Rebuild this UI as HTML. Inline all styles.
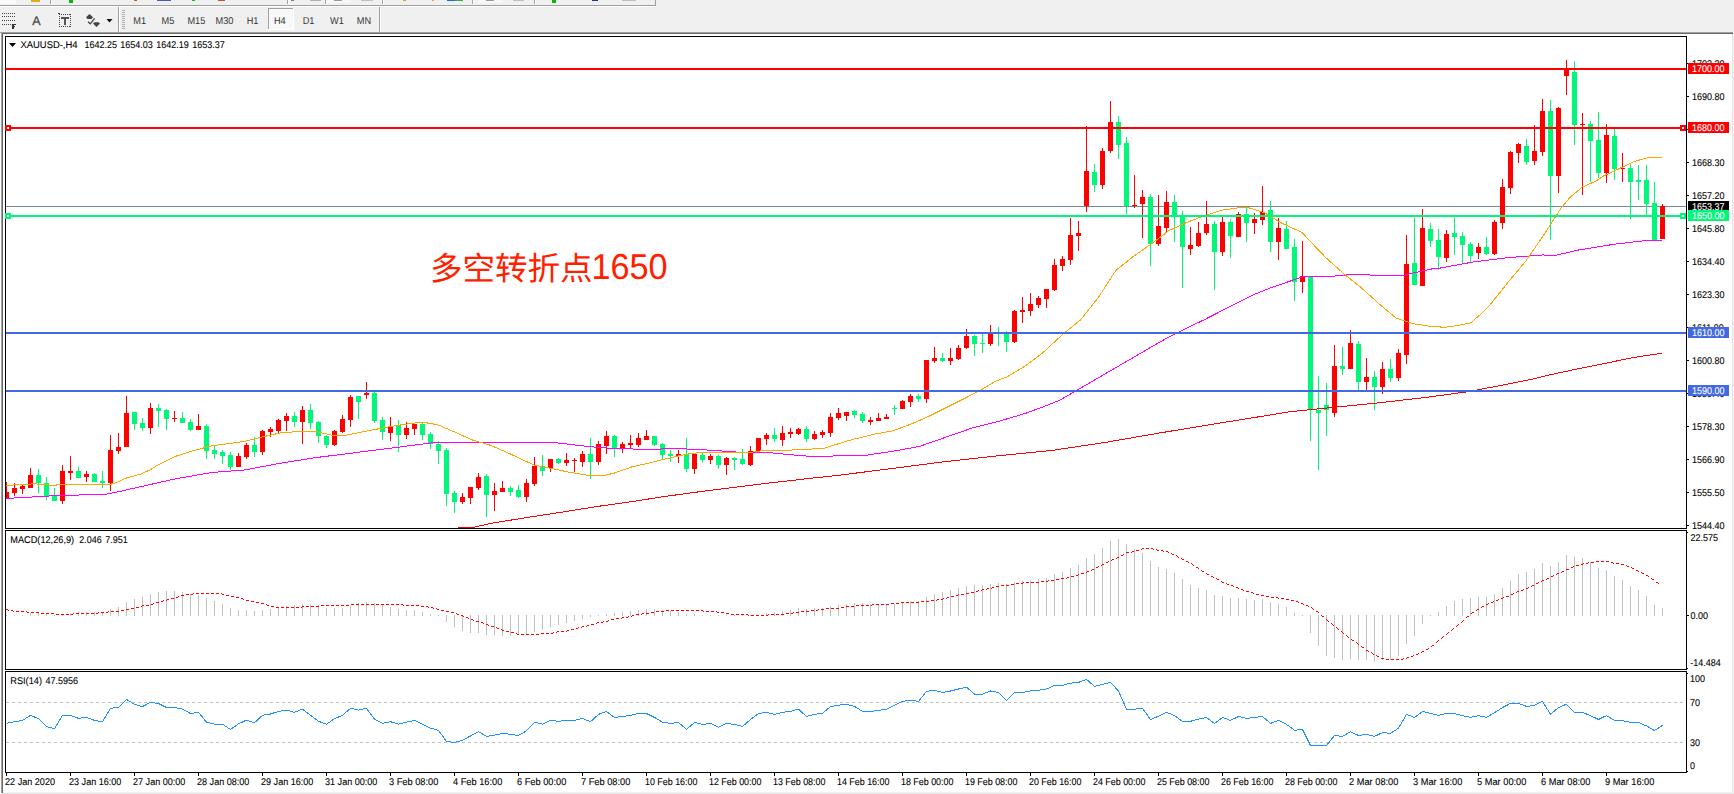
<!DOCTYPE html>
<html><head><meta charset="utf-8"><title>XAUUSD H4</title>
<style>
html,body{margin:0;padding:0;background:#fff;}
body{width:1734px;height:794px;overflow:hidden;position:relative;font-family:"Liberation Sans","Noto Sans CJK SC",sans-serif;}
svg{position:absolute;left:0;top:0;display:block}
text{font-family:"Liberation Sans","Noto Sans CJK SC",sans-serif;font-size:9.8px;text-rendering:geometricPrecision;fill:#000;stroke:#000;stroke-width:0.1px}
.tb text{fill:#333;stroke:none;font-size:10px}
.w{fill:#fff;stroke:#fff}
.cjk{font-size:32px;fill:#ff2000;stroke:none}
</style></head><body>
<svg width="1734" height="794" viewBox="0 0 1734 794">

<g class="tb" shape-rendering="crispEdges">
<rect x="0" y="0" width="1734" height="32" fill="#f0f0f0"/>
<rect x="0" y="5" width="655" height="1" fill="#a0a0a0"/><rect x="0" y="6" width="655" height="1" fill="#fff"/>
<rect x="655" y="0" width="1" height="6" fill="#a0a0a0"/>
<rect x="0" y="0" width="16" height="4" fill="#fafafa"/>
<rect x="31" y="0" width="9" height="2" fill="#e8a820"/>
<rect x="69" y="0" width="4" height="3" fill="#10b010"/>
<rect x="134" y="0" width="3" height="1" fill="#b06820"/>
<rect x="157" y="0" width="14" height="1" fill="#4060b0"/>
<rect x="192" y="0" width="3" height="1" fill="#30b030"/>
<rect x="218" y="0" width="7" height="1" fill="#d05020"/>
<rect x="291" y="0" width="3" height="1" fill="#808080"/>
<rect x="310" y="0" width="11" height="1" fill="#b0b0b0"/>
<rect x="361" y="0" width="12" height="1" fill="#c0c0c0"/>
<rect x="403" y="0" width="3" height="1" fill="#e0a030"/>
<rect x="432" y="0" width="2" height="1" fill="#e0a030"/>
<rect x="447" y="0" width="8" height="1" fill="#2868d8"/>
<rect x="455" y="0" width="8" height="1" fill="#30b040"/>
<rect x="513" y="0" width="11" height="1" fill="#c0c0c0"/>
<rect x="552" y="0" width="4" height="3" fill="#10b010"/>
<rect x="592" y="0" width="6" height="1" fill="#203880"/>
<rect x="622" y="0" width="14" height="1" fill="#c0c0c0"/>
<rect x="50" y="0" width="1" height="4" fill="#a0a0a0"/><rect x="51" y="0" width="1" height="4" fill="#fff"/>
<rect x="287" y="0" width="1" height="4" fill="#a0a0a0"/><rect x="288" y="0" width="1" height="4" fill="#fff"/>
<rect x="325" y="0" width="1" height="4" fill="#a0a0a0"/><rect x="326" y="0" width="1" height="4" fill="#fff"/>
<rect x="382" y="0" width="1" height="4" fill="#a0a0a0"/><rect x="383" y="0" width="1" height="4" fill="#fff"/>
<rect x="472" y="0" width="1" height="4" fill="#a0a0a0"/><rect x="473" y="0" width="1" height="4" fill="#fff"/>
<rect x="534" y="0" width="1" height="4" fill="#a0a0a0"/><rect x="535" y="0" width="1" height="4" fill="#fff"/>
<rect x="326" y="0" width="24" height="3" fill="#f8f8f8"/><rect x="334" y="0" width="8" height="1" fill="#999"/>
<rect x="478" y="0" width="24" height="3" fill="#f8f8f8"/><rect x="486" y="0" width="8" height="1" fill="#999"/>
<rect x="0" y="32" width="1733" height="1" fill="#a0a0a0"/><rect x="2" y="33" width="1731" height="1" fill="#696969"/>
<rect x="0" y="34" width="1" height="760" fill="#fff"/><rect x="1" y="33" width="1" height="760" fill="#a0a0a0"/><rect x="2" y="34" width="1" height="759" fill="#696969"/>
<rect x="1732" y="34" width="1" height="759" fill="#e3e3e3"/><rect x="1733" y="34" width="1" height="760" fill="#f4f4f4"/>
<rect x="3" y="792" width="1730" height="1" fill="#f4f4f4"/><rect x="2" y="793" width="1732" height="1" fill="#e3e3e3"/>
<rect x="2" y="13" width="1" height="1" fill="#444"/>
<rect x="4" y="13" width="1" height="1" fill="#444"/>
<rect x="6" y="13" width="1" height="1" fill="#444"/>
<rect x="8" y="13" width="1" height="1" fill="#444"/>
<rect x="10" y="13" width="1" height="1" fill="#444"/>
<rect x="12" y="13" width="1" height="1" fill="#444"/>
<rect x="14" y="13" width="1" height="1" fill="#444"/>
<rect x="2" y="16" width="1" height="1" fill="#444"/>
<rect x="4" y="16" width="1" height="1" fill="#444"/>
<rect x="6" y="16" width="1" height="1" fill="#444"/>
<rect x="8" y="16" width="1" height="1" fill="#444"/>
<rect x="10" y="16" width="1" height="1" fill="#444"/>
<rect x="12" y="16" width="1" height="1" fill="#444"/>
<rect x="14" y="16" width="1" height="1" fill="#444"/>
<rect x="2" y="20" width="1" height="1" fill="#444"/>
<rect x="4" y="20" width="1" height="1" fill="#444"/>
<rect x="6" y="20" width="1" height="1" fill="#444"/>
<rect x="8" y="20" width="1" height="1" fill="#444"/>
<rect x="10" y="20" width="1" height="1" fill="#444"/>
<rect x="12" y="20" width="1" height="1" fill="#444"/>
<rect x="14" y="20" width="1" height="1" fill="#444"/>
<rect x="2" y="24" width="1" height="1" fill="#444"/>
<rect x="4" y="24" width="1" height="1" fill="#444"/>
<rect x="6" y="24" width="1" height="1" fill="#444"/>
<rect x="8" y="24" width="1" height="1" fill="#444"/>
<rect x="10" y="24" width="1" height="1" fill="#444"/>
<rect x="12" y="24" width="2" height="5" fill="#333"/><rect x="12" y="24" width="4" height="1" fill="#333"/><rect x="12" y="26" width="3" height="1" fill="#333"/>
<rect x="59" y="14" width="1" height="1" fill="#444"/><rect x="59" y="26" width="1" height="1" fill="#444"/>
<rect x="61" y="14" width="1" height="1" fill="#444"/><rect x="61" y="26" width="1" height="1" fill="#444"/>
<rect x="63" y="14" width="1" height="1" fill="#444"/><rect x="63" y="26" width="1" height="1" fill="#444"/>
<rect x="65" y="14" width="1" height="1" fill="#444"/><rect x="65" y="26" width="1" height="1" fill="#444"/>
<rect x="67" y="14" width="1" height="1" fill="#444"/><rect x="67" y="26" width="1" height="1" fill="#444"/>
<rect x="69" y="14" width="1" height="1" fill="#444"/><rect x="69" y="26" width="1" height="1" fill="#444"/>
<rect x="59" y="14" width="1" height="1" fill="#444"/><rect x="70" y="14" width="1" height="1" fill="#444"/>
<rect x="59" y="16" width="1" height="1" fill="#444"/><rect x="70" y="16" width="1" height="1" fill="#444"/>
<rect x="59" y="18" width="1" height="1" fill="#444"/><rect x="70" y="18" width="1" height="1" fill="#444"/>
<rect x="59" y="20" width="1" height="1" fill="#444"/><rect x="70" y="20" width="1" height="1" fill="#444"/>
<rect x="59" y="22" width="1" height="1" fill="#444"/><rect x="70" y="22" width="1" height="1" fill="#444"/>
<rect x="59" y="24" width="1" height="1" fill="#444"/><rect x="70" y="24" width="1" height="1" fill="#444"/>
<rect x="59" y="26" width="1" height="1" fill="#444"/><rect x="70" y="26" width="1" height="1" fill="#444"/>
<rect x="58" y="13" width="2" height="1" fill="#444"/>
<rect x="61" y="17" width="8" height="2" fill="#555"/><rect x="64" y="17" width="2" height="8" fill="#555"/>
<rect x="118" y="7" width="1" height="25" fill="#a0a0a0"/><rect x="119" y="7" width="1" height="25" fill="#fff"/>
<rect x="379" y="7" width="1" height="25" fill="#a0a0a0"/><rect x="380" y="7" width="1" height="25" fill="#fff"/>
<rect x="122" y="10" width="3" height="1" fill="#b0b0b0"/>
<rect x="122" y="12" width="3" height="1" fill="#b0b0b0"/>
<rect x="122" y="14" width="3" height="1" fill="#b0b0b0"/>
<rect x="122" y="16" width="3" height="1" fill="#b0b0b0"/>
<rect x="122" y="18" width="3" height="1" fill="#b0b0b0"/>
<rect x="122" y="20" width="3" height="1" fill="#b0b0b0"/>
<rect x="122" y="22" width="3" height="1" fill="#b0b0b0"/>
<rect x="122" y="24" width="3" height="1" fill="#b0b0b0"/>
<rect x="122" y="26" width="3" height="1" fill="#b0b0b0"/>
<rect x="122" y="28" width="3" height="1" fill="#b0b0b0"/>
<rect x="268" y="8" width="26" height="22" fill="#f8f8f8"/><rect x="268" y="8" width="26" height="1" fill="#a0a0a0"/><rect x="268" y="8" width="1" height="22" fill="#a0a0a0"/><rect x="293" y="8" width="1" height="22" fill="#fff"/><rect x="268" y="29" width="26" height="1" fill="#fff"/>
</g>
<g class="tb">
<text x="32.3" y="25" style="font-size:12.5px;fill:#444;stroke:#555;stroke-width:0.3">A</text>
<path d="M89.5 14 L93 17.3 L91.5 19 L87.5 19 L86 17.3 Z M94.5 22.3 L98.5 22.3 L100 23.5 L96.5 27 L93 23.5 Z" fill="#444"/><path d="M88 21.8 L90.3 23.8 L94.6 18.4" fill="none" stroke="#444" stroke-width="1.2"/>
<path d="M106.5 19 L112.5 19 L109.5 22.5 Z" fill="#111"/>
<text transform="translate(139.7,24.0) scale(0.918,1)" x="0" y="0" text-anchor="middle">M1</text>
<text transform="translate(167.9,24.0) scale(0.918,1)" x="0" y="0" text-anchor="middle">M5</text>
<text transform="translate(196.3,24.0) scale(0.918,1)" x="0" y="0" text-anchor="middle">M15</text>
<text transform="translate(224.4,24.0) scale(0.918,1)" x="0" y="0" text-anchor="middle">M30</text>
<text transform="translate(252.6,24.0) scale(0.918,1)" x="0" y="0" text-anchor="middle">H1</text>
<text transform="translate(279.8,24.0) scale(0.918,1)" x="0" y="0" text-anchor="middle">H4</text>
<text transform="translate(308.5,24.0) scale(0.918,1)" x="0" y="0" text-anchor="middle">D1</text>
<text transform="translate(337.0,24.0) scale(0.918,1)" x="0" y="0" text-anchor="middle">W1</text>
<text transform="translate(363.9,24.0) scale(0.918,1)" x="0" y="0" text-anchor="middle">MN</text>
</g>
<g shape-rendering="crispEdges">
<rect x="5" y="36" width="1682" height="1" fill="#000"/>
<rect x="5" y="528" width="1682" height="1" fill="#000"/>
<rect x="5" y="530" width="1682" height="1" fill="#000"/>
<rect x="5" y="669" width="1682" height="1" fill="#000"/>
<rect x="5" y="671" width="1682" height="1" fill="#000"/>
<rect x="5" y="772" width="1682" height="1" fill="#000"/>
<rect x="5" y="36" width="1" height="493" fill="#000"/>
<rect x="5" y="530" width="1" height="140" fill="#000"/>
<rect x="5" y="671" width="1" height="102" fill="#000"/>
<rect x="1686" y="36" width="1" height="493" fill="#000"/>
<rect x="1686" y="530" width="1" height="140" fill="#000"/>
<rect x="1686" y="671" width="1" height="102" fill="#000"/>
<rect x="1687" y="525" width="2" height="1" fill="#000"/>
<rect x="1687" y="492" width="2" height="1" fill="#000"/>
<rect x="1687" y="459" width="2" height="1" fill="#000"/>
<rect x="1687" y="426" width="2" height="1" fill="#000"/>
<rect x="1687" y="393" width="2" height="1" fill="#000"/>
<rect x="1687" y="360" width="2" height="1" fill="#000"/>
<rect x="1687" y="327" width="2" height="1" fill="#000"/>
<rect x="1687" y="294" width="2" height="1" fill="#000"/>
<rect x="1687" y="261" width="2" height="1" fill="#000"/>
<rect x="1687" y="228" width="2" height="1" fill="#000"/>
<rect x="1687" y="195" width="2" height="1" fill="#000"/>
<rect x="1687" y="162" width="2" height="1" fill="#000"/>
<rect x="1687" y="129" width="2" height="1" fill="#000"/>
<rect x="1687" y="96" width="2" height="1" fill="#000"/>
<rect x="1687" y="63" width="2" height="1" fill="#000"/>
<rect x="1687" y="615" width="2" height="1" fill="#000"/>
<rect x="1687" y="532" width="1" height="1" fill="#000"/>
<rect x="1687" y="668" width="1" height="1" fill="#000"/>
<rect x="1687" y="673" width="1" height="1" fill="#000"/>
<rect x="1687" y="771" width="1" height="1" fill="#000"/>
<rect x="6" y="773" width="1" height="3" fill="#000"/>
<rect x="70" y="773" width="1" height="3" fill="#000"/>
<rect x="134" y="773" width="1" height="3" fill="#000"/>
<rect x="198" y="773" width="1" height="3" fill="#000"/>
<rect x="262" y="773" width="1" height="3" fill="#000"/>
<rect x="326" y="773" width="1" height="3" fill="#000"/>
<rect x="390" y="773" width="1" height="3" fill="#000"/>
<rect x="454" y="773" width="1" height="3" fill="#000"/>
<rect x="518" y="773" width="1" height="3" fill="#000"/>
<rect x="582" y="773" width="1" height="3" fill="#000"/>
<rect x="646" y="773" width="1" height="3" fill="#000"/>
<rect x="710" y="773" width="1" height="3" fill="#000"/>
<rect x="774" y="773" width="1" height="3" fill="#000"/>
<rect x="838" y="773" width="1" height="3" fill="#000"/>
<rect x="902" y="773" width="1" height="3" fill="#000"/>
<rect x="966" y="773" width="1" height="3" fill="#000"/>
<rect x="1030" y="773" width="1" height="3" fill="#000"/>
<rect x="1094" y="773" width="1" height="3" fill="#000"/>
<rect x="1158" y="773" width="1" height="3" fill="#000"/>
<rect x="1222" y="773" width="1" height="3" fill="#000"/>
<rect x="1286" y="773" width="1" height="3" fill="#000"/>
<rect x="1350" y="773" width="1" height="3" fill="#000"/>
<rect x="1414" y="773" width="1" height="3" fill="#000"/>
<rect x="1478" y="773" width="1" height="3" fill="#000"/>
<rect x="1542" y="773" width="1" height="3" fill="#000"/>
<rect x="1606" y="773" width="1" height="3" fill="#000"/>
</g>
<defs><clipPath id="cm"><rect x="6" y="37" width="1680" height="491"/></clipPath></defs>
<g clip-path="url(#cm)" shape-rendering="crispEdges">
<rect x="6" y="206" width="1680" height="1" fill="#778899"/>
<rect x="6" y="482" width="1" height="16" fill="#ff0000"/>
<rect x="4" y="492" width="5" height="6" fill="#ff0000"/>
<rect x="14" y="483" width="1" height="13" fill="#ff0000"/>
<rect x="12" y="488" width="5" height="5" fill="#ff0000"/>
<rect x="22" y="484" width="1" height="10" fill="#ff0000"/>
<rect x="20" y="486" width="5" height="3" fill="#ff0000"/>
<rect x="30" y="468" width="1" height="20" fill="#ff0000"/>
<rect x="28" y="475" width="5" height="13" fill="#ff0000"/>
<rect x="38" y="469" width="1" height="24" fill="#00f87a"/>
<rect x="36" y="475" width="5" height="8" fill="#00f87a"/>
<rect x="46" y="477" width="1" height="23" fill="#00f87a"/>
<rect x="44" y="483" width="5" height="13" fill="#00f87a"/>
<rect x="54" y="488" width="1" height="13" fill="#00f87a"/>
<rect x="52" y="496" width="5" height="5" fill="#00f87a"/>
<rect x="62" y="465" width="1" height="39" fill="#ff0000"/>
<rect x="60" y="471" width="5" height="30" fill="#ff0000"/>
<rect x="70" y="456" width="1" height="24" fill="#ff0000"/>
<rect x="68" y="471" width="5" height="2" fill="#ff0000"/>
<rect x="78" y="467" width="1" height="11" fill="#00f87a"/>
<rect x="76" y="471" width="5" height="7" fill="#00f87a"/>
<rect x="86" y="471" width="1" height="11" fill="#ff0000"/>
<rect x="84" y="474" width="5" height="3" fill="#ff0000"/>
<rect x="94" y="473" width="1" height="9" fill="#00f87a"/>
<rect x="92" y="474" width="5" height="8" fill="#00f87a"/>
<rect x="102" y="471" width="1" height="17" fill="#00f87a"/>
<rect x="100" y="481" width="5" height="2" fill="#00f87a"/>
<rect x="110" y="435" width="1" height="56" fill="#ff0000"/>
<rect x="108" y="450" width="5" height="33" fill="#ff0000"/>
<rect x="118" y="433" width="1" height="21" fill="#ff0000"/>
<rect x="116" y="447" width="5" height="4" fill="#ff0000"/>
<rect x="126" y="396" width="1" height="51" fill="#ff0000"/>
<rect x="124" y="413" width="5" height="34" fill="#ff0000"/>
<rect x="134" y="412" width="1" height="18" fill="#00f87a"/>
<rect x="132" y="412" width="5" height="12" fill="#00f87a"/>
<rect x="142" y="418" width="1" height="13" fill="#00f87a"/>
<rect x="140" y="423" width="5" height="5" fill="#00f87a"/>
<rect x="150" y="403" width="1" height="31" fill="#ff0000"/>
<rect x="148" y="408" width="5" height="20" fill="#ff0000"/>
<rect x="158" y="404" width="1" height="23" fill="#00f87a"/>
<rect x="156" y="408" width="5" height="3" fill="#00f87a"/>
<rect x="166" y="409" width="1" height="21" fill="#00f87a"/>
<rect x="164" y="410" width="5" height="9" fill="#00f87a"/>
<rect x="174" y="411" width="1" height="11" fill="#ff0000"/>
<rect x="172" y="418" width="5" height="1" fill="#ff0000"/>
<rect x="182" y="412" width="1" height="11" fill="#00f87a"/>
<rect x="180" y="418" width="5" height="5" fill="#00f87a"/>
<rect x="190" y="419" width="1" height="12" fill="#00f87a"/>
<rect x="188" y="422" width="5" height="8" fill="#00f87a"/>
<rect x="198" y="414" width="1" height="16" fill="#ff0000"/>
<rect x="196" y="426" width="5" height="4" fill="#ff0000"/>
<rect x="206" y="424" width="1" height="35" fill="#00f87a"/>
<rect x="204" y="426" width="5" height="25" fill="#00f87a"/>
<rect x="214" y="446" width="1" height="13" fill="#00f87a"/>
<rect x="212" y="450" width="5" height="4" fill="#00f87a"/>
<rect x="222" y="450" width="1" height="14" fill="#00f87a"/>
<rect x="220" y="452" width="5" height="4" fill="#00f87a"/>
<rect x="230" y="452" width="1" height="18" fill="#00f87a"/>
<rect x="228" y="455" width="5" height="12" fill="#00f87a"/>
<rect x="238" y="453" width="1" height="14" fill="#ff0000"/>
<rect x="236" y="456" width="5" height="11" fill="#ff0000"/>
<rect x="246" y="443" width="1" height="16" fill="#ff0000"/>
<rect x="244" y="445" width="5" height="12" fill="#ff0000"/>
<rect x="254" y="437" width="1" height="20" fill="#00f87a"/>
<rect x="252" y="445" width="5" height="7" fill="#00f87a"/>
<rect x="262" y="430" width="1" height="25" fill="#ff0000"/>
<rect x="260" y="431" width="5" height="21" fill="#ff0000"/>
<rect x="270" y="427" width="1" height="10" fill="#ff0000"/>
<rect x="268" y="429" width="5" height="3" fill="#ff0000"/>
<rect x="278" y="419" width="1" height="14" fill="#ff0000"/>
<rect x="276" y="420" width="5" height="11" fill="#ff0000"/>
<rect x="286" y="413" width="1" height="18" fill="#ff0000"/>
<rect x="284" y="416" width="5" height="5" fill="#ff0000"/>
<rect x="294" y="412" width="1" height="15" fill="#00f87a"/>
<rect x="292" y="416" width="5" height="6" fill="#00f87a"/>
<rect x="302" y="406" width="1" height="38" fill="#ff0000"/>
<rect x="300" y="410" width="5" height="12" fill="#ff0000"/>
<rect x="310" y="404" width="1" height="25" fill="#00f87a"/>
<rect x="308" y="410" width="5" height="13" fill="#00f87a"/>
<rect x="318" y="421" width="1" height="22" fill="#00f87a"/>
<rect x="316" y="422" width="5" height="14" fill="#00f87a"/>
<rect x="326" y="435" width="1" height="13" fill="#00f87a"/>
<rect x="324" y="436" width="5" height="9" fill="#00f87a"/>
<rect x="334" y="430" width="1" height="16" fill="#ff0000"/>
<rect x="332" y="431" width="5" height="14" fill="#ff0000"/>
<rect x="342" y="415" width="1" height="18" fill="#ff0000"/>
<rect x="340" y="419" width="5" height="13" fill="#ff0000"/>
<rect x="350" y="395" width="1" height="32" fill="#ff0000"/>
<rect x="348" y="397" width="5" height="23" fill="#ff0000"/>
<rect x="358" y="396" width="1" height="23" fill="#00f87a"/>
<rect x="356" y="396" width="5" height="6" fill="#00f87a"/>
<rect x="366" y="382" width="1" height="17" fill="#ff0000"/>
<rect x="364" y="393" width="5" height="2" fill="#ff0000"/>
<rect x="374" y="392" width="1" height="31" fill="#00f87a"/>
<rect x="372" y="393" width="5" height="28" fill="#00f87a"/>
<rect x="382" y="417" width="1" height="23" fill="#00f87a"/>
<rect x="380" y="420" width="5" height="12" fill="#00f87a"/>
<rect x="390" y="417" width="1" height="24" fill="#ff0000"/>
<rect x="388" y="426" width="5" height="7" fill="#ff0000"/>
<rect x="398" y="420" width="1" height="32" fill="#00f87a"/>
<rect x="396" y="425" width="5" height="10" fill="#00f87a"/>
<rect x="406" y="422" width="1" height="17" fill="#ff0000"/>
<rect x="404" y="428" width="5" height="7" fill="#ff0000"/>
<rect x="414" y="423" width="1" height="12" fill="#ff0000"/>
<rect x="412" y="424" width="5" height="5" fill="#ff0000"/>
<rect x="422" y="423" width="1" height="17" fill="#00f87a"/>
<rect x="420" y="424" width="5" height="11" fill="#00f87a"/>
<rect x="430" y="432" width="1" height="17" fill="#00f87a"/>
<rect x="428" y="434" width="5" height="10" fill="#00f87a"/>
<rect x="438" y="441" width="1" height="23" fill="#00f87a"/>
<rect x="436" y="444" width="5" height="7" fill="#00f87a"/>
<rect x="446" y="448" width="1" height="58" fill="#00f87a"/>
<rect x="444" y="450" width="5" height="44" fill="#00f87a"/>
<rect x="454" y="491" width="1" height="22" fill="#00f87a"/>
<rect x="452" y="493" width="5" height="9" fill="#00f87a"/>
<rect x="462" y="493" width="1" height="11" fill="#ff0000"/>
<rect x="460" y="497" width="5" height="5" fill="#ff0000"/>
<rect x="470" y="487" width="1" height="17" fill="#ff0000"/>
<rect x="468" y="487" width="5" height="11" fill="#ff0000"/>
<rect x="478" y="473" width="1" height="17" fill="#ff0000"/>
<rect x="476" y="477" width="5" height="11" fill="#ff0000"/>
<rect x="486" y="474" width="1" height="43" fill="#00f87a"/>
<rect x="484" y="476" width="5" height="19" fill="#00f87a"/>
<rect x="494" y="483" width="1" height="28" fill="#ff0000"/>
<rect x="492" y="491" width="5" height="4" fill="#ff0000"/>
<rect x="502" y="481" width="1" height="11" fill="#ff0000"/>
<rect x="500" y="488" width="5" height="4" fill="#ff0000"/>
<rect x="510" y="486" width="1" height="10" fill="#00f87a"/>
<rect x="508" y="488" width="5" height="4" fill="#00f87a"/>
<rect x="518" y="485" width="1" height="13" fill="#00f87a"/>
<rect x="516" y="490" width="5" height="7" fill="#00f87a"/>
<rect x="526" y="479" width="1" height="23" fill="#ff0000"/>
<rect x="524" y="483" width="5" height="14" fill="#ff0000"/>
<rect x="534" y="457" width="1" height="29" fill="#ff0000"/>
<rect x="532" y="466" width="5" height="18" fill="#ff0000"/>
<rect x="542" y="455" width="1" height="21" fill="#00f87a"/>
<rect x="540" y="466" width="5" height="5" fill="#00f87a"/>
<rect x="550" y="459" width="1" height="13" fill="#ff0000"/>
<rect x="548" y="459" width="5" height="9" fill="#ff0000"/>
<rect x="558" y="458" width="1" height="6" fill="#00f87a"/>
<rect x="556" y="459" width="5" height="4" fill="#00f87a"/>
<rect x="566" y="453" width="1" height="13" fill="#ff0000"/>
<rect x="564" y="460" width="5" height="3" fill="#ff0000"/>
<rect x="574" y="458" width="1" height="14" fill="#ff0000"/>
<rect x="572" y="460" width="5" height="1" fill="#ff0000"/>
<rect x="582" y="451" width="1" height="16" fill="#ff0000"/>
<rect x="580" y="454" width="5" height="8" fill="#ff0000"/>
<rect x="590" y="438" width="1" height="41" fill="#00f87a"/>
<rect x="588" y="454" width="5" height="8" fill="#00f87a"/>
<rect x="598" y="441" width="1" height="24" fill="#ff0000"/>
<rect x="596" y="444" width="5" height="18" fill="#ff0000"/>
<rect x="606" y="431" width="1" height="23" fill="#ff0000"/>
<rect x="604" y="436" width="5" height="10" fill="#ff0000"/>
<rect x="614" y="435" width="1" height="22" fill="#00f87a"/>
<rect x="612" y="436" width="5" height="12" fill="#00f87a"/>
<rect x="622" y="442" width="1" height="11" fill="#ff0000"/>
<rect x="620" y="444" width="5" height="4" fill="#ff0000"/>
<rect x="630" y="435" width="1" height="14" fill="#ff0000"/>
<rect x="628" y="443" width="5" height="2" fill="#ff0000"/>
<rect x="638" y="433" width="1" height="14" fill="#ff0000"/>
<rect x="636" y="438" width="5" height="7" fill="#ff0000"/>
<rect x="646" y="430" width="1" height="10" fill="#ff0000"/>
<rect x="644" y="436" width="5" height="4" fill="#ff0000"/>
<rect x="654" y="436" width="1" height="10" fill="#00f87a"/>
<rect x="652" y="436" width="5" height="9" fill="#00f87a"/>
<rect x="662" y="443" width="1" height="16" fill="#00f87a"/>
<rect x="660" y="444" width="5" height="11" fill="#00f87a"/>
<rect x="670" y="450" width="1" height="12" fill="#00f87a"/>
<rect x="668" y="454" width="5" height="2" fill="#00f87a"/>
<rect x="678" y="450" width="1" height="13" fill="#ff0000"/>
<rect x="676" y="454" width="5" height="2" fill="#ff0000"/>
<rect x="686" y="438" width="1" height="34" fill="#00f87a"/>
<rect x="684" y="454" width="5" height="15" fill="#00f87a"/>
<rect x="694" y="454" width="1" height="20" fill="#ff0000"/>
<rect x="692" y="454" width="5" height="15" fill="#ff0000"/>
<rect x="702" y="452" width="1" height="11" fill="#00f87a"/>
<rect x="700" y="455" width="5" height="5" fill="#00f87a"/>
<rect x="710" y="454" width="1" height="10" fill="#ff0000"/>
<rect x="708" y="456" width="5" height="4" fill="#ff0000"/>
<rect x="718" y="455" width="1" height="14" fill="#00f87a"/>
<rect x="716" y="456" width="5" height="9" fill="#00f87a"/>
<rect x="726" y="457" width="1" height="18" fill="#ff0000"/>
<rect x="724" y="458" width="5" height="7" fill="#ff0000"/>
<rect x="734" y="457" width="1" height="13" fill="#00f87a"/>
<rect x="732" y="458" width="5" height="2" fill="#00f87a"/>
<rect x="742" y="449" width="1" height="16" fill="#00f87a"/>
<rect x="740" y="459" width="5" height="5" fill="#00f87a"/>
<rect x="750" y="446" width="1" height="20" fill="#ff0000"/>
<rect x="748" y="451" width="5" height="14" fill="#ff0000"/>
<rect x="758" y="438" width="1" height="15" fill="#ff0000"/>
<rect x="756" y="438" width="5" height="13" fill="#ff0000"/>
<rect x="766" y="433" width="1" height="12" fill="#ff0000"/>
<rect x="764" y="435" width="5" height="4" fill="#ff0000"/>
<rect x="774" y="428" width="1" height="14" fill="#00f87a"/>
<rect x="772" y="435" width="5" height="4" fill="#00f87a"/>
<rect x="782" y="426" width="1" height="20" fill="#ff0000"/>
<rect x="780" y="433" width="5" height="7" fill="#ff0000"/>
<rect x="790" y="428" width="1" height="10" fill="#ff0000"/>
<rect x="788" y="432" width="5" height="2" fill="#ff0000"/>
<rect x="798" y="428" width="1" height="7" fill="#ff0000"/>
<rect x="796" y="429" width="5" height="5" fill="#ff0000"/>
<rect x="806" y="426" width="1" height="16" fill="#00f87a"/>
<rect x="804" y="429" width="5" height="10" fill="#00f87a"/>
<rect x="814" y="431" width="1" height="9" fill="#ff0000"/>
<rect x="812" y="434" width="5" height="5" fill="#ff0000"/>
<rect x="822" y="430" width="1" height="8" fill="#ff0000"/>
<rect x="820" y="432" width="5" height="3" fill="#ff0000"/>
<rect x="830" y="413" width="1" height="24" fill="#ff0000"/>
<rect x="828" y="417" width="5" height="16" fill="#ff0000"/>
<rect x="838" y="408" width="1" height="12" fill="#ff0000"/>
<rect x="836" y="413" width="5" height="5" fill="#ff0000"/>
<rect x="846" y="412" width="1" height="9" fill="#ff0000"/>
<rect x="844" y="412" width="5" height="4" fill="#ff0000"/>
<rect x="854" y="410" width="1" height="8" fill="#00f87a"/>
<rect x="852" y="411" width="5" height="4" fill="#00f87a"/>
<rect x="862" y="412" width="1" height="11" fill="#00f87a"/>
<rect x="860" y="414" width="5" height="7" fill="#00f87a"/>
<rect x="870" y="417" width="1" height="8" fill="#ff0000"/>
<rect x="868" y="420" width="5" height="2" fill="#ff0000"/>
<rect x="878" y="413" width="1" height="8" fill="#ff0000"/>
<rect x="876" y="418" width="5" height="3" fill="#ff0000"/>
<rect x="886" y="414" width="1" height="5" fill="#ff0000"/>
<rect x="884" y="417" width="5" height="2" fill="#ff0000"/>
<rect x="894" y="405" width="1" height="10" fill="#00f87a"/>
<rect x="892" y="408" width="5" height="1" fill="#00f87a"/>
<rect x="902" y="400" width="1" height="9" fill="#ff0000"/>
<rect x="900" y="401" width="5" height="8" fill="#ff0000"/>
<rect x="910" y="394" width="1" height="13" fill="#ff0000"/>
<rect x="908" y="396" width="5" height="6" fill="#ff0000"/>
<rect x="918" y="394" width="1" height="8" fill="#00f87a"/>
<rect x="916" y="396" width="5" height="3" fill="#00f87a"/>
<rect x="926" y="360" width="1" height="43" fill="#ff0000"/>
<rect x="924" y="360" width="5" height="39" fill="#ff0000"/>
<rect x="934" y="347" width="1" height="16" fill="#ff0000"/>
<rect x="932" y="358" width="5" height="3" fill="#ff0000"/>
<rect x="942" y="353" width="1" height="9" fill="#00f87a"/>
<rect x="940" y="358" width="5" height="3" fill="#00f87a"/>
<rect x="950" y="348" width="1" height="17" fill="#ff0000"/>
<rect x="948" y="358" width="5" height="3" fill="#ff0000"/>
<rect x="958" y="345" width="1" height="15" fill="#ff0000"/>
<rect x="956" y="348" width="5" height="11" fill="#ff0000"/>
<rect x="966" y="329" width="1" height="20" fill="#ff0000"/>
<rect x="964" y="336" width="5" height="12" fill="#ff0000"/>
<rect x="974" y="335" width="1" height="21" fill="#00f87a"/>
<rect x="972" y="336" width="5" height="8" fill="#00f87a"/>
<rect x="982" y="334" width="1" height="19" fill="#00f87a"/>
<rect x="980" y="343" width="5" height="1" fill="#00f87a"/>
<rect x="990" y="325" width="1" height="21" fill="#ff0000"/>
<rect x="988" y="333" width="5" height="11" fill="#ff0000"/>
<rect x="998" y="327" width="1" height="19" fill="#00f87a"/>
<rect x="1006" y="331" width="1" height="21" fill="#00f87a"/>
<rect x="1004" y="334" width="5" height="8" fill="#00f87a"/>
<rect x="1014" y="310" width="1" height="33" fill="#ff0000"/>
<rect x="1012" y="311" width="5" height="31" fill="#ff0000"/>
<rect x="1022" y="297" width="1" height="26" fill="#ff0000"/>
<rect x="1020" y="310" width="5" height="2" fill="#ff0000"/>
<rect x="1030" y="293" width="1" height="23" fill="#ff0000"/>
<rect x="1028" y="304" width="5" height="7" fill="#ff0000"/>
<rect x="1038" y="296" width="1" height="12" fill="#ff0000"/>
<rect x="1036" y="298" width="5" height="7" fill="#ff0000"/>
<rect x="1046" y="289" width="1" height="19" fill="#ff0000"/>
<rect x="1044" y="289" width="5" height="10" fill="#ff0000"/>
<rect x="1054" y="259" width="1" height="32" fill="#ff0000"/>
<rect x="1052" y="265" width="5" height="25" fill="#ff0000"/>
<rect x="1062" y="256" width="1" height="15" fill="#ff0000"/>
<rect x="1060" y="259" width="5" height="7" fill="#ff0000"/>
<rect x="1070" y="218" width="1" height="47" fill="#ff0000"/>
<rect x="1068" y="235" width="5" height="25" fill="#ff0000"/>
<rect x="1078" y="221" width="1" height="30" fill="#ff0000"/>
<rect x="1076" y="233" width="5" height="3" fill="#ff0000"/>
<rect x="1086" y="126" width="1" height="86" fill="#ff0000"/>
<rect x="1084" y="171" width="5" height="35" fill="#ff0000"/>
<rect x="1094" y="164" width="1" height="28" fill="#00f87a"/>
<rect x="1092" y="172" width="5" height="13" fill="#00f87a"/>
<rect x="1102" y="148" width="1" height="41" fill="#ff0000"/>
<rect x="1100" y="151" width="5" height="34" fill="#ff0000"/>
<rect x="1110" y="101" width="1" height="52" fill="#ff0000"/>
<rect x="1108" y="122" width="5" height="29" fill="#ff0000"/>
<rect x="1118" y="116" width="1" height="43" fill="#00f87a"/>
<rect x="1116" y="122" width="5" height="23" fill="#00f87a"/>
<rect x="1126" y="137" width="1" height="77" fill="#00f87a"/>
<rect x="1124" y="143" width="5" height="63" fill="#00f87a"/>
<rect x="1134" y="175" width="1" height="33" fill="#ff0000"/>
<rect x="1132" y="205" width="5" height="1" fill="#ff0000"/>
<rect x="1142" y="190" width="1" height="48" fill="#ff0000"/>
<rect x="1140" y="197" width="5" height="7" fill="#ff0000"/>
<rect x="1150" y="194" width="1" height="72" fill="#00f87a"/>
<rect x="1148" y="197" width="5" height="47" fill="#00f87a"/>
<rect x="1158" y="195" width="1" height="51" fill="#ff0000"/>
<rect x="1156" y="226" width="5" height="18" fill="#ff0000"/>
<rect x="1166" y="191" width="1" height="42" fill="#ff0000"/>
<rect x="1164" y="202" width="5" height="26" fill="#ff0000"/>
<rect x="1174" y="195" width="1" height="47" fill="#00f87a"/>
<rect x="1172" y="202" width="5" height="14" fill="#00f87a"/>
<rect x="1182" y="211" width="1" height="77" fill="#00f87a"/>
<rect x="1180" y="216" width="5" height="31" fill="#00f87a"/>
<rect x="1190" y="227" width="1" height="28" fill="#ff0000"/>
<rect x="1188" y="245" width="5" height="4" fill="#ff0000"/>
<rect x="1198" y="222" width="1" height="25" fill="#ff0000"/>
<rect x="1196" y="233" width="5" height="13" fill="#ff0000"/>
<rect x="1206" y="201" width="1" height="34" fill="#ff0000"/>
<rect x="1204" y="224" width="5" height="9" fill="#ff0000"/>
<rect x="1214" y="221" width="1" height="69" fill="#00f87a"/>
<rect x="1212" y="224" width="5" height="28" fill="#00f87a"/>
<rect x="1222" y="217" width="1" height="39" fill="#ff0000"/>
<rect x="1220" y="222" width="5" height="30" fill="#ff0000"/>
<rect x="1230" y="219" width="1" height="39" fill="#00f87a"/>
<rect x="1228" y="222" width="5" height="14" fill="#00f87a"/>
<rect x="1238" y="212" width="1" height="25" fill="#ff0000"/>
<rect x="1236" y="214" width="5" height="23" fill="#ff0000"/>
<rect x="1246" y="207" width="1" height="35" fill="#00f87a"/>
<rect x="1244" y="214" width="5" height="9" fill="#00f87a"/>
<rect x="1254" y="213" width="1" height="21" fill="#ff0000"/>
<rect x="1252" y="219" width="5" height="4" fill="#ff0000"/>
<rect x="1262" y="186" width="1" height="39" fill="#ff0000"/>
<rect x="1260" y="212" width="5" height="8" fill="#ff0000"/>
<rect x="1270" y="201" width="1" height="51" fill="#00f87a"/>
<rect x="1268" y="210" width="5" height="32" fill="#00f87a"/>
<rect x="1278" y="218" width="1" height="42" fill="#ff0000"/>
<rect x="1276" y="228" width="5" height="14" fill="#ff0000"/>
<rect x="1286" y="221" width="1" height="28" fill="#00f87a"/>
<rect x="1284" y="229" width="5" height="20" fill="#00f87a"/>
<rect x="1294" y="239" width="1" height="62" fill="#00f87a"/>
<rect x="1292" y="247" width="5" height="35" fill="#00f87a"/>
<rect x="1302" y="241" width="1" height="52" fill="#ff0000"/>
<rect x="1300" y="276" width="5" height="6" fill="#ff0000"/>
<rect x="1310" y="276" width="1" height="165" fill="#00f87a"/>
<rect x="1308" y="276" width="5" height="134" fill="#00f87a"/>
<rect x="1318" y="376" width="1" height="94" fill="#00f87a"/>
<rect x="1316" y="410" width="5" height="3" fill="#00f87a"/>
<rect x="1326" y="383" width="1" height="53" fill="#00f87a"/>
<rect x="1324" y="405" width="5" height="5" fill="#00f87a"/>
<rect x="1334" y="345" width="1" height="72" fill="#ff0000"/>
<rect x="1332" y="366" width="5" height="47" fill="#ff0000"/>
<rect x="1342" y="347" width="1" height="28" fill="#00f87a"/>
<rect x="1340" y="366" width="5" height="3" fill="#00f87a"/>
<rect x="1350" y="330" width="1" height="39" fill="#ff0000"/>
<rect x="1348" y="343" width="5" height="26" fill="#ff0000"/>
<rect x="1358" y="341" width="1" height="49" fill="#00f87a"/>
<rect x="1356" y="344" width="5" height="38" fill="#00f87a"/>
<rect x="1366" y="358" width="1" height="32" fill="#ff0000"/>
<rect x="1364" y="377" width="5" height="5" fill="#ff0000"/>
<rect x="1374" y="371" width="1" height="39" fill="#00f87a"/>
<rect x="1372" y="377" width="5" height="10" fill="#00f87a"/>
<rect x="1382" y="362" width="1" height="32" fill="#ff0000"/>
<rect x="1380" y="369" width="5" height="18" fill="#ff0000"/>
<rect x="1390" y="359" width="1" height="23" fill="#00f87a"/>
<rect x="1388" y="369" width="5" height="9" fill="#00f87a"/>
<rect x="1398" y="349" width="1" height="32" fill="#ff0000"/>
<rect x="1396" y="353" width="5" height="25" fill="#ff0000"/>
<rect x="1406" y="235" width="1" height="129" fill="#ff0000"/>
<rect x="1404" y="264" width="5" height="91" fill="#ff0000"/>
<rect x="1414" y="218" width="1" height="67" fill="#00f87a"/>
<rect x="1412" y="263" width="5" height="22" fill="#00f87a"/>
<rect x="1422" y="209" width="1" height="77" fill="#ff0000"/>
<rect x="1420" y="228" width="5" height="58" fill="#ff0000"/>
<rect x="1430" y="223" width="1" height="24" fill="#00f87a"/>
<rect x="1428" y="229" width="5" height="12" fill="#00f87a"/>
<rect x="1438" y="229" width="1" height="41" fill="#00f87a"/>
<rect x="1436" y="240" width="5" height="17" fill="#00f87a"/>
<rect x="1446" y="230" width="1" height="32" fill="#ff0000"/>
<rect x="1444" y="234" width="5" height="24" fill="#ff0000"/>
<rect x="1454" y="218" width="1" height="37" fill="#00f87a"/>
<rect x="1452" y="233" width="5" height="4" fill="#00f87a"/>
<rect x="1462" y="232" width="1" height="31" fill="#00f87a"/>
<rect x="1460" y="236" width="5" height="9" fill="#00f87a"/>
<rect x="1470" y="242" width="1" height="20" fill="#00f87a"/>
<rect x="1468" y="244" width="5" height="12" fill="#00f87a"/>
<rect x="1478" y="243" width="1" height="16" fill="#ff0000"/>
<rect x="1476" y="247" width="5" height="6" fill="#ff0000"/>
<rect x="1486" y="237" width="1" height="18" fill="#00f87a"/>
<rect x="1484" y="247" width="5" height="7" fill="#00f87a"/>
<rect x="1494" y="220" width="1" height="35" fill="#ff0000"/>
<rect x="1492" y="222" width="5" height="32" fill="#ff0000"/>
<rect x="1502" y="179" width="1" height="50" fill="#ff0000"/>
<rect x="1500" y="187" width="5" height="36" fill="#ff0000"/>
<rect x="1510" y="151" width="1" height="43" fill="#ff0000"/>
<rect x="1508" y="152" width="5" height="36" fill="#ff0000"/>
<rect x="1518" y="143" width="1" height="20" fill="#ff0000"/>
<rect x="1516" y="144" width="5" height="9" fill="#ff0000"/>
<rect x="1526" y="139" width="1" height="26" fill="#00f87a"/>
<rect x="1524" y="146" width="5" height="16" fill="#00f87a"/>
<rect x="1534" y="125" width="1" height="40" fill="#ff0000"/>
<rect x="1532" y="151" width="5" height="10" fill="#ff0000"/>
<rect x="1542" y="99" width="1" height="57" fill="#ff0000"/>
<rect x="1540" y="111" width="5" height="41" fill="#ff0000"/>
<rect x="1550" y="100" width="1" height="140" fill="#00f87a"/>
<rect x="1548" y="111" width="5" height="65" fill="#00f87a"/>
<rect x="1558" y="107" width="1" height="86" fill="#ff0000"/>
<rect x="1556" y="108" width="5" height="68" fill="#ff0000"/>
<rect x="1566" y="60" width="1" height="35" fill="#ff0000"/>
<rect x="1564" y="69" width="5" height="7" fill="#ff0000"/>
<rect x="1574" y="61" width="1" height="84" fill="#00f87a"/>
<rect x="1572" y="72" width="5" height="53" fill="#00f87a"/>
<rect x="1582" y="113" width="1" height="82" fill="#ff0000"/>
<rect x="1580" y="124" width="5" height="1" fill="#ff0000"/>
<rect x="1590" y="121" width="1" height="61" fill="#00f87a"/>
<rect x="1588" y="124" width="5" height="17" fill="#00f87a"/>
<rect x="1598" y="112" width="1" height="66" fill="#00f87a"/>
<rect x="1596" y="140" width="5" height="33" fill="#00f87a"/>
<rect x="1606" y="124" width="1" height="59" fill="#ff0000"/>
<rect x="1604" y="135" width="5" height="38" fill="#ff0000"/>
<rect x="1614" y="129" width="1" height="51" fill="#00f87a"/>
<rect x="1612" y="136" width="5" height="33" fill="#00f87a"/>
<rect x="1622" y="153" width="1" height="29" fill="#ff0000"/>
<rect x="1620" y="168" width="5" height="1" fill="#ff0000"/>
<rect x="1630" y="163" width="1" height="56" fill="#00f87a"/>
<rect x="1628" y="168" width="5" height="14" fill="#00f87a"/>
<rect x="1638" y="165" width="1" height="35" fill="#00f87a"/>
<rect x="1636" y="180" width="5" height="2" fill="#00f87a"/>
<rect x="1646" y="165" width="1" height="50" fill="#00f87a"/>
<rect x="1644" y="180" width="5" height="24" fill="#00f87a"/>
<rect x="1654" y="182" width="1" height="58" fill="#00f87a"/>
<rect x="1652" y="203" width="5" height="37" fill="#00f87a"/>
<rect x="1662" y="204" width="1" height="35" fill="#ff0000"/>
<rect x="1660" y="206" width="5" height="33" fill="#ff0000"/>
<polyline points="458.0,527.5 473.0,527.5 490.5,523.4 525.8,517.7 561.0,512.3 596.3,506.6 630.0,501.9 665.3,496.4 700.5,491.6 735.8,487.2 771.0,482.8 806.3,478.8 840.0,475.1 893.0,468.4 946.1,461.5 999.2,455.7 1052.2,450.4 1105.3,442.4 1158.3,433.2 1211.4,424.4 1264.4,415.9 1290.0,411.7 1334.0,407.3 1378.0,402.9 1422.0,397.9 1466.0,392.0 1480.0,389.4 1505.4,384.6 1530.8,379.5 1556.1,373.4 1581.5,368.1 1606.9,363.0 1632.3,357.7 1662.0,353.2" fill="none" stroke="#ff0000" stroke-width="1" />
<polyline points="6.0,498.5 53.0,495.8 106.0,494.2 116.0,492.3 141.0,486.6 176.0,478.7 212.0,472.5 245.0,469.9 280.5,463.2 315.8,457.6 351.0,453.2 386.3,448.7 430.0,443.1 437.6,442.3 545.0,442.3 561.0,443.2 578.6,445.5 596.3,447.2 613.9,448.5 640.0,449.2 682.9,448.8 705.8,449.9 735.8,452.0 771.0,452.8 788.6,454.6 806.3,456.0 832.7,456.0 850.0,455.1 866.5,455.2 893.0,451.2 919.6,446.4 946.1,437.1 972.6,427.9 999.2,421.2 1025.7,413.3 1042.7,407.0 1060.0,400.1 1163.4,340.0 1186.3,328.3 1203.9,319.9 1230.0,306.6 1237.6,302.9 1255.3,294.0 1272.9,287.0 1290.5,281.0 1302.0,276.9 1325.8,276.9 1346.9,274.8 1369.8,274.8 1371.6,275.7 1401.6,275.7 1413.9,272.9 1431.5,269.0 1440.0,268.1 1472.9,262.0 1508.1,257.6 1543.4,254.9 1550.4,255.8 1557.5,254.9 1578.6,250.0 1613.9,244.3 1640.0,241.2 1650.0,240.4 1662.0,240.4" fill="none" stroke="#ff00ff" stroke-width="1" />
<polyline points="6.0,485.4 35.0,483.8 53.0,485.4 62.0,484.4 110.0,484.4 116.0,482.8 127.0,477.8 141.0,474.0 150.0,469.9 159.0,464.3 176.0,456.2 194.0,450.5 212.0,445.8 227.6,443.8 245.3,441.3 262.9,436.8 280.5,432.9 298.1,431.5 315.8,431.6 333.4,435.5 345.7,435.2 359.8,432.5 377.5,429.0 395.1,425.8 412.7,423.2 423.3,422.3 437.6,424.7 455.3,432.3 472.9,440.2 490.5,445.3 508.1,452.9 525.8,461.2 534.6,465.2 552.2,468.7 569.8,472.3 587.5,475.3 605.1,475.3 613.9,473.2 631.5,467.0 647.6,463.4 665.3,459.0 682.9,455.0 691.7,453.2 718.1,452.0 753.4,452.0 762.2,450.7 788.6,450.2 823.9,448.4 840.0,443.2 853.2,439.3 875.3,434.0 892.9,430.8 910.5,424.3 928.1,416.7 945.8,407.9 963.4,399.1 981.0,389.9 995.1,381.4 1007.5,376.7 1025.1,366.1 1042.7,352.9 1057.0,339.5 1066.4,331.3 1080.5,319.9 1098.1,297.8 1115.8,270.5 1133.4,256.4 1151.0,244.1 1168.6,230.8 1186.3,222.6 1203.9,215.9 1221.5,210.2 1237.6,207.9 1246.4,207.0 1264.1,212.6 1281.7,223.2 1302.0,232.4 1308.1,239.1 1325.8,257.6 1343.4,273.4 1361.0,287.5 1378.6,303.4 1395.8,317.9 1413.4,323.8 1431.0,326.4 1445.1,327.3 1457.5,325.5 1470.7,322.9 1483.9,311.4 1490.5,304.3 1508.1,282.2 1525.8,261.1 1543.4,235.5 1561.0,208.2 1569.8,197.6 1582.2,187.1 1596.3,180.9 1603.4,176.0 1621.0,167.8 1633.4,161.9 1645.7,158.1 1662.0,157.0" fill="none" stroke="#ffa500" stroke-width="1" />
<rect x="6" y="68" width="1680" height="2" fill="#ff0000"/>
<rect x="6" y="127" width="1680" height="2" fill="#ff0000"/>
<rect x="6" y="215" width="1680" height="2" fill="#00f87a"/>
<rect x="6" y="332" width="1680" height="2" fill="#4169e1"/>
<rect x="6" y="390" width="1680" height="2" fill="#4169e1"/>
</g>
<g shape-rendering="crispEdges">
<rect x="5" y="125" width="6" height="6" fill="#ff0000"/><rect x="7" y="127" width="2" height="2" fill="#fff"/>
<rect x="5" y="213" width="6" height="6" fill="#00f87a"/><rect x="7" y="215" width="2" height="2" fill="#fff"/>
<rect x="1680" y="125" width="6" height="6" fill="#ff0000"/><rect x="1682" y="127" width="2" height="2" fill="#fff"/>
<rect x="1680" y="213" width="6" height="6" fill="#00f87a"/><rect x="1682" y="215" width="2" height="2" fill="#fff"/>
</g>
<text class="cjk" x="430" y="280" style="font-size:32.5px">多空转折点</text>
<text class="cjk" transform="translate(591.5,279.3) scale(0.95,1)" style="font-size:36px">1650</text>
<path d="M9 43 L16 43 L12.5 47 Z" fill="#000"/>
<text transform="translate(20.5,48.0) scale(0.918,1)" x="0" y="0" textLength="62.1" lengthAdjust="spacingAndGlyphs">XAUUSD-,H4</text>
<text transform="translate(84.5,48.0) scale(0.918,1)" x="0" y="0">1642.25</text>
<text transform="translate(120.3,48.0) scale(0.918,1)" x="0" y="0">1654.03</text>
<text transform="translate(156.3,48.0) scale(0.918,1)" x="0" y="0">1642.19</text>
<text transform="translate(192.3,48.0) scale(0.918,1)" x="0" y="0">1653.37</text>
<text transform="translate(1692.0,529.0) scale(0.918,1)" x="0" y="0">1544.40</text>
<text transform="translate(1692.0,496.0) scale(0.918,1)" x="0" y="0">1555.50</text>
<text transform="translate(1692.0,463.0) scale(0.918,1)" x="0" y="0">1566.90</text>
<text transform="translate(1692.0,430.0) scale(0.918,1)" x="0" y="0">1578.30</text>
<text transform="translate(1692.0,397.0) scale(0.918,1)" x="0" y="0">1589.40</text>
<text transform="translate(1692.0,364.0) scale(0.918,1)" x="0" y="0">1600.80</text>
<text transform="translate(1692.0,331.0) scale(0.918,1)" x="0" y="0">1611.90</text>
<text transform="translate(1692.0,298.0) scale(0.918,1)" x="0" y="0">1623.30</text>
<text transform="translate(1692.0,265.0) scale(0.918,1)" x="0" y="0">1634.40</text>
<text transform="translate(1692.0,232.0) scale(0.918,1)" x="0" y="0">1645.80</text>
<text transform="translate(1692.0,199.0) scale(0.918,1)" x="0" y="0">1657.20</text>
<text transform="translate(1692.0,166.0) scale(0.918,1)" x="0" y="0">1668.30</text>
<text transform="translate(1692.0,133.0) scale(0.918,1)" x="0" y="0">1679.40</text>
<text transform="translate(1692.0,100.0) scale(0.918,1)" x="0" y="0">1690.80</text>
<text transform="translate(1692.0,67.0) scale(0.918,1)" x="0" y="0">1702.20</text>
<rect x="1688" y="63" width="41" height="11" fill="#ff0000" shape-rendering="crispEdges"/><text transform="translate(1692.0,72.0) scale(0.918,1)" class="w" x="0" y="0">1700.00</text>
<rect x="1688" y="122" width="41" height="11" fill="#ff0000" shape-rendering="crispEdges"/><text transform="translate(1692.0,131.0) scale(0.918,1)" class="w" x="0" y="0">1680.00</text>
<rect x="1688" y="201" width="41" height="11" fill="#000" shape-rendering="crispEdges"/><text transform="translate(1692.0,210.0) scale(0.918,1)" class="w" x="0" y="0">1653.37</text>
<rect x="1688" y="210" width="41" height="11" fill="#00f87a" shape-rendering="crispEdges"/><text transform="translate(1692.0,219.0) scale(0.918,1)" class="w" x="0" y="0">1650.00</text>
<rect x="1688" y="327" width="41" height="11" fill="#4169e1" shape-rendering="crispEdges"/><text transform="translate(1692.0,336.0) scale(0.918,1)" class="w" x="0" y="0">1610.00</text>
<rect x="1688" y="385" width="41" height="11" fill="#4169e1" shape-rendering="crispEdges"/><text transform="translate(1692.0,394.0) scale(0.918,1)" class="w" x="0" y="0">1590.00</text>
<g shape-rendering="crispEdges">
<rect x="6" y="615" width="1" height="1" fill="#c0c0c0"/>
<rect x="14" y="615" width="1" height="1" fill="#c0c0c0"/>
<rect x="22" y="615" width="1" height="1" fill="#c0c0c0"/>
<rect x="30" y="613" width="1" height="3" fill="#c0c0c0"/>
<rect x="38" y="613" width="1" height="3" fill="#c0c0c0"/>
<rect x="46" y="614" width="1" height="2" fill="#c0c0c0"/>
<rect x="54" y="615" width="1" height="1" fill="#c0c0c0"/>
<rect x="62" y="615" width="1" height="1" fill="#c0c0c0"/>
<rect x="70" y="613" width="1" height="3" fill="#c0c0c0"/>
<rect x="78" y="612" width="1" height="4" fill="#c0c0c0"/>
<rect x="86" y="612" width="1" height="4" fill="#c0c0c0"/>
<rect x="94" y="612" width="1" height="4" fill="#c0c0c0"/>
<rect x="102" y="612" width="1" height="4" fill="#c0c0c0"/>
<rect x="110" y="609" width="1" height="7" fill="#c0c0c0"/>
<rect x="118" y="607" width="1" height="9" fill="#c0c0c0"/>
<rect x="126" y="602" width="1" height="14" fill="#c0c0c0"/>
<rect x="134" y="599" width="1" height="17" fill="#c0c0c0"/>
<rect x="142" y="597" width="1" height="19" fill="#c0c0c0"/>
<rect x="150" y="594" width="1" height="22" fill="#c0c0c0"/>
<rect x="158" y="592" width="1" height="24" fill="#c0c0c0"/>
<rect x="166" y="591" width="1" height="25" fill="#c0c0c0"/>
<rect x="174" y="591" width="1" height="25" fill="#c0c0c0"/>
<rect x="182" y="592" width="1" height="24" fill="#c0c0c0"/>
<rect x="190" y="594" width="1" height="22" fill="#c0c0c0"/>
<rect x="198" y="595" width="1" height="21" fill="#c0c0c0"/>
<rect x="206" y="598" width="1" height="18" fill="#c0c0c0"/>
<rect x="214" y="601" width="1" height="15" fill="#c0c0c0"/>
<rect x="222" y="604" width="1" height="12" fill="#c0c0c0"/>
<rect x="230" y="608" width="1" height="8" fill="#c0c0c0"/>
<rect x="238" y="610" width="1" height="6" fill="#c0c0c0"/>
<rect x="246" y="610" width="1" height="6" fill="#c0c0c0"/>
<rect x="254" y="611" width="1" height="5" fill="#c0c0c0"/>
<rect x="262" y="610" width="1" height="6" fill="#c0c0c0"/>
<rect x="270" y="609" width="1" height="7" fill="#c0c0c0"/>
<rect x="278" y="607" width="1" height="9" fill="#c0c0c0"/>
<rect x="286" y="606" width="1" height="10" fill="#c0c0c0"/>
<rect x="294" y="605" width="1" height="11" fill="#c0c0c0"/>
<rect x="302" y="604" width="1" height="12" fill="#c0c0c0"/>
<rect x="310" y="604" width="1" height="12" fill="#c0c0c0"/>
<rect x="318" y="605" width="1" height="11" fill="#c0c0c0"/>
<rect x="326" y="608" width="1" height="8" fill="#c0c0c0"/>
<rect x="334" y="608" width="1" height="8" fill="#c0c0c0"/>
<rect x="342" y="608" width="1" height="8" fill="#c0c0c0"/>
<rect x="350" y="606" width="1" height="10" fill="#c0c0c0"/>
<rect x="358" y="603" width="1" height="13" fill="#c0c0c0"/>
<rect x="366" y="602" width="1" height="14" fill="#c0c0c0"/>
<rect x="374" y="603" width="1" height="13" fill="#c0c0c0"/>
<rect x="382" y="604" width="1" height="12" fill="#c0c0c0"/>
<rect x="390" y="607" width="1" height="9" fill="#c0c0c0"/>
<rect x="398" y="609" width="1" height="7" fill="#c0c0c0"/>
<rect x="406" y="610" width="1" height="6" fill="#c0c0c0"/>
<rect x="414" y="610" width="1" height="6" fill="#c0c0c0"/>
<rect x="422" y="612" width="1" height="4" fill="#c0c0c0"/>
<rect x="430" y="614" width="1" height="2" fill="#c0c0c0"/>
<rect x="438" y="615" width="1" height="1" fill="#c0c0c0"/>
<rect x="446" y="615" width="1" height="7" fill="#c0c0c0"/>
<rect x="454" y="615" width="1" height="12" fill="#c0c0c0"/>
<rect x="462" y="615" width="1" height="16" fill="#c0c0c0"/>
<rect x="470" y="615" width="1" height="18" fill="#c0c0c0"/>
<rect x="478" y="615" width="1" height="18" fill="#c0c0c0"/>
<rect x="486" y="615" width="1" height="20" fill="#c0c0c0"/>
<rect x="494" y="615" width="1" height="20" fill="#c0c0c0"/>
<rect x="502" y="615" width="1" height="21" fill="#c0c0c0"/>
<rect x="510" y="615" width="1" height="21" fill="#c0c0c0"/>
<rect x="518" y="615" width="1" height="20" fill="#c0c0c0"/>
<rect x="526" y="615" width="1" height="19" fill="#c0c0c0"/>
<rect x="534" y="615" width="1" height="17" fill="#c0c0c0"/>
<rect x="542" y="615" width="1" height="15" fill="#c0c0c0"/>
<rect x="550" y="615" width="1" height="12" fill="#c0c0c0"/>
<rect x="558" y="615" width="1" height="10" fill="#c0c0c0"/>
<rect x="566" y="615" width="1" height="8" fill="#c0c0c0"/>
<rect x="574" y="615" width="1" height="6" fill="#c0c0c0"/>
<rect x="582" y="615" width="1" height="4" fill="#c0c0c0"/>
<rect x="590" y="615" width="1" height="2" fill="#c0c0c0"/>
<rect x="598" y="615" width="1" height="1" fill="#c0c0c0"/>
<rect x="606" y="614" width="1" height="2" fill="#c0c0c0"/>
<rect x="614" y="613" width="1" height="3" fill="#c0c0c0"/>
<rect x="622" y="612" width="1" height="4" fill="#c0c0c0"/>
<rect x="630" y="611" width="1" height="5" fill="#c0c0c0"/>
<rect x="638" y="610" width="1" height="6" fill="#c0c0c0"/>
<rect x="646" y="609" width="1" height="7" fill="#c0c0c0"/>
<rect x="654" y="609" width="1" height="7" fill="#c0c0c0"/>
<rect x="662" y="610" width="1" height="6" fill="#c0c0c0"/>
<rect x="670" y="611" width="1" height="5" fill="#c0c0c0"/>
<rect x="678" y="612" width="1" height="4" fill="#c0c0c0"/>
<rect x="686" y="614" width="1" height="2" fill="#c0c0c0"/>
<rect x="694" y="614" width="1" height="2" fill="#c0c0c0"/>
<rect x="702" y="615" width="1" height="1" fill="#c0c0c0"/>
<rect x="710" y="615" width="1" height="1" fill="#c0c0c0"/>
<rect x="718" y="615" width="1" height="1" fill="#c0c0c0"/>
<rect x="726" y="615" width="1" height="1" fill="#c0c0c0"/>
<rect x="734" y="615" width="1" height="1" fill="#c0c0c0"/>
<rect x="742" y="615" width="1" height="1" fill="#c0c0c0"/>
<rect x="750" y="615" width="1" height="1" fill="#c0c0c0"/>
<rect x="758" y="615" width="1" height="1" fill="#c0c0c0"/>
<rect x="766" y="613" width="1" height="3" fill="#c0c0c0"/>
<rect x="774" y="612" width="1" height="4" fill="#c0c0c0"/>
<rect x="782" y="611" width="1" height="5" fill="#c0c0c0"/>
<rect x="790" y="610" width="1" height="6" fill="#c0c0c0"/>
<rect x="798" y="608" width="1" height="8" fill="#c0c0c0"/>
<rect x="806" y="609" width="1" height="7" fill="#c0c0c0"/>
<rect x="814" y="608" width="1" height="8" fill="#c0c0c0"/>
<rect x="822" y="608" width="1" height="8" fill="#c0c0c0"/>
<rect x="830" y="606" width="1" height="10" fill="#c0c0c0"/>
<rect x="838" y="605" width="1" height="11" fill="#c0c0c0"/>
<rect x="846" y="604" width="1" height="12" fill="#c0c0c0"/>
<rect x="854" y="603" width="1" height="13" fill="#c0c0c0"/>
<rect x="862" y="603" width="1" height="13" fill="#c0c0c0"/>
<rect x="870" y="604" width="1" height="12" fill="#c0c0c0"/>
<rect x="878" y="604" width="1" height="12" fill="#c0c0c0"/>
<rect x="886" y="604" width="1" height="12" fill="#c0c0c0"/>
<rect x="894" y="604" width="1" height="12" fill="#c0c0c0"/>
<rect x="902" y="603" width="1" height="13" fill="#c0c0c0"/>
<rect x="910" y="601" width="1" height="15" fill="#c0c0c0"/>
<rect x="918" y="601" width="1" height="15" fill="#c0c0c0"/>
<rect x="926" y="597" width="1" height="19" fill="#c0c0c0"/>
<rect x="934" y="594" width="1" height="22" fill="#c0c0c0"/>
<rect x="942" y="592" width="1" height="24" fill="#c0c0c0"/>
<rect x="950" y="590" width="1" height="26" fill="#c0c0c0"/>
<rect x="958" y="588" width="1" height="28" fill="#c0c0c0"/>
<rect x="966" y="586" width="1" height="30" fill="#c0c0c0"/>
<rect x="974" y="585" width="1" height="31" fill="#c0c0c0"/>
<rect x="982" y="585" width="1" height="31" fill="#c0c0c0"/>
<rect x="990" y="584" width="1" height="32" fill="#c0c0c0"/>
<rect x="998" y="583" width="1" height="33" fill="#c0c0c0"/>
<rect x="1006" y="584" width="1" height="32" fill="#c0c0c0"/>
<rect x="1014" y="582" width="1" height="34" fill="#c0c0c0"/>
<rect x="1022" y="581" width="1" height="35" fill="#c0c0c0"/>
<rect x="1030" y="580" width="1" height="36" fill="#c0c0c0"/>
<rect x="1038" y="579" width="1" height="37" fill="#c0c0c0"/>
<rect x="1046" y="578" width="1" height="38" fill="#c0c0c0"/>
<rect x="1054" y="574" width="1" height="42" fill="#c0c0c0"/>
<rect x="1062" y="572" width="1" height="44" fill="#c0c0c0"/>
<rect x="1070" y="568" width="1" height="48" fill="#c0c0c0"/>
<rect x="1078" y="565" width="1" height="51" fill="#c0c0c0"/>
<rect x="1086" y="558" width="1" height="58" fill="#c0c0c0"/>
<rect x="1094" y="554" width="1" height="62" fill="#c0c0c0"/>
<rect x="1102" y="548" width="1" height="68" fill="#c0c0c0"/>
<rect x="1110" y="541" width="1" height="75" fill="#c0c0c0"/>
<rect x="1118" y="539" width="1" height="77" fill="#c0c0c0"/>
<rect x="1126" y="544" width="1" height="72" fill="#c0c0c0"/>
<rect x="1134" y="549" width="1" height="67" fill="#c0c0c0"/>
<rect x="1142" y="553" width="1" height="63" fill="#c0c0c0"/>
<rect x="1150" y="561" width="1" height="55" fill="#c0c0c0"/>
<rect x="1158" y="567" width="1" height="49" fill="#c0c0c0"/>
<rect x="1166" y="569" width="1" height="47" fill="#c0c0c0"/>
<rect x="1174" y="573" width="1" height="43" fill="#c0c0c0"/>
<rect x="1182" y="579" width="1" height="37" fill="#c0c0c0"/>
<rect x="1190" y="585" width="1" height="31" fill="#c0c0c0"/>
<rect x="1198" y="588" width="1" height="28" fill="#c0c0c0"/>
<rect x="1206" y="590" width="1" height="26" fill="#c0c0c0"/>
<rect x="1214" y="595" width="1" height="21" fill="#c0c0c0"/>
<rect x="1222" y="596" width="1" height="20" fill="#c0c0c0"/>
<rect x="1230" y="598" width="1" height="18" fill="#c0c0c0"/>
<rect x="1238" y="598" width="1" height="18" fill="#c0c0c0"/>
<rect x="1246" y="599" width="1" height="17" fill="#c0c0c0"/>
<rect x="1254" y="600" width="1" height="16" fill="#c0c0c0"/>
<rect x="1262" y="599" width="1" height="17" fill="#c0c0c0"/>
<rect x="1270" y="602" width="1" height="14" fill="#c0c0c0"/>
<rect x="1278" y="604" width="1" height="12" fill="#c0c0c0"/>
<rect x="1286" y="607" width="1" height="9" fill="#c0c0c0"/>
<rect x="1294" y="613" width="1" height="3" fill="#c0c0c0"/>
<rect x="1302" y="615" width="1" height="1" fill="#c0c0c0"/>
<rect x="1310" y="615" width="1" height="18" fill="#c0c0c0"/>
<rect x="1318" y="615" width="1" height="31" fill="#c0c0c0"/>
<rect x="1326" y="615" width="1" height="41" fill="#c0c0c0"/>
<rect x="1334" y="615" width="1" height="43" fill="#c0c0c0"/>
<rect x="1342" y="615" width="1" height="45" fill="#c0c0c0"/>
<rect x="1350" y="615" width="1" height="44" fill="#c0c0c0"/>
<rect x="1358" y="615" width="1" height="45" fill="#c0c0c0"/>
<rect x="1366" y="615" width="1" height="45" fill="#c0c0c0"/>
<rect x="1374" y="615" width="1" height="47" fill="#c0c0c0"/>
<rect x="1382" y="615" width="1" height="45" fill="#c0c0c0"/>
<rect x="1390" y="615" width="1" height="45" fill="#c0c0c0"/>
<rect x="1398" y="615" width="1" height="41" fill="#c0c0c0"/>
<rect x="1406" y="615" width="1" height="29" fill="#c0c0c0"/>
<rect x="1414" y="615" width="1" height="21" fill="#c0c0c0"/>
<rect x="1422" y="615" width="1" height="9" fill="#c0c0c0"/>
<rect x="1430" y="615" width="1" height="1" fill="#c0c0c0"/>
<rect x="1438" y="612" width="1" height="4" fill="#c0c0c0"/>
<rect x="1446" y="606" width="1" height="10" fill="#c0c0c0"/>
<rect x="1454" y="601" width="1" height="15" fill="#c0c0c0"/>
<rect x="1462" y="599" width="1" height="17" fill="#c0c0c0"/>
<rect x="1470" y="598" width="1" height="18" fill="#c0c0c0"/>
<rect x="1478" y="597" width="1" height="19" fill="#c0c0c0"/>
<rect x="1486" y="597" width="1" height="19" fill="#c0c0c0"/>
<rect x="1494" y="594" width="1" height="22" fill="#c0c0c0"/>
<rect x="1502" y="588" width="1" height="28" fill="#c0c0c0"/>
<rect x="1510" y="581" width="1" height="35" fill="#c0c0c0"/>
<rect x="1518" y="574" width="1" height="42" fill="#c0c0c0"/>
<rect x="1526" y="572" width="1" height="44" fill="#c0c0c0"/>
<rect x="1534" y="569" width="1" height="47" fill="#c0c0c0"/>
<rect x="1542" y="563" width="1" height="53" fill="#c0c0c0"/>
<rect x="1550" y="566" width="1" height="50" fill="#c0c0c0"/>
<rect x="1558" y="562" width="1" height="54" fill="#c0c0c0"/>
<rect x="1566" y="555" width="1" height="61" fill="#c0c0c0"/>
<rect x="1574" y="557" width="1" height="59" fill="#c0c0c0"/>
<rect x="1582" y="558" width="1" height="58" fill="#c0c0c0"/>
<rect x="1590" y="562" width="1" height="54" fill="#c0c0c0"/>
<rect x="1598" y="568" width="1" height="48" fill="#c0c0c0"/>
<rect x="1606" y="570" width="1" height="46" fill="#c0c0c0"/>
<rect x="1614" y="576" width="1" height="40" fill="#c0c0c0"/>
<rect x="1622" y="580" width="1" height="36" fill="#c0c0c0"/>
<rect x="1630" y="586" width="1" height="30" fill="#c0c0c0"/>
<rect x="1638" y="590" width="1" height="26" fill="#c0c0c0"/>
<rect x="1646" y="596" width="1" height="20" fill="#c0c0c0"/>
<rect x="1654" y="605" width="1" height="11" fill="#c0c0c0"/>
<rect x="1662" y="608" width="1" height="8" fill="#c0c0c0"/>
<path d="M6 609.5h1M7 609.5h1M8 610.5h1M11 610.5h1M12 610.5h1M13 611.5h1M16 611.5h1M17 611.5h1M18 611.5h1M21 611.5h1M22 611.5h1M23 611.5h1M26 611.5h1M27 612.5h1M28 612.5h1M31 612.5h1M32 612.5h1M33 612.5h1M36 612.5h1M37 612.5h1M38 612.5h1M41 613.5h1M42 613.5h1M43 613.5h1M46 613.5h1M47 613.5h1M48 613.5h1M51 613.5h1M52 613.5h1M53 613.5h1M56 614.5h1M57 614.5h1M58 614.5h1M61 614.5h1M62 614.5h1M63 614.5h1M66 614.5h1M67 614.5h1M68 614.5h1M71 614.5h1M72 614.5h1M73 613.5h1M76 613.5h1M77 613.5h1M78 613.5h1M81 613.5h1M82 613.5h1M83 613.5h1M86 613.5h1M87 613.5h1M88 613.5h1M91 613.5h1M92 613.5h1M93 613.5h1M96 613.5h1M97 613.5h1M98 612.5h1M101 612.5h1M102 612.5h1M103 612.5h1M106 612.5h1M107 612.5h1M108 611.5h1M111 611.5h1M112 611.5h1M113 611.5h1M116 611.5h1M117 611.5h1M118 611.5h1M121 610.5h1M122 610.5h1M123 610.5h1M126 609.5h1M127 609.5h1M128 609.5h1M131 608.5h1M132 608.5h1M133 608.5h1M136 607.5h1M137 607.5h1M138 607.5h1M141 606.5h1M142 605.5h1M143 605.5h1M146 605.5h1M147 605.5h1M148 605.5h1M151 604.5h1M152 604.5h1M153 603.5h1M156 602.5h1M157 602.5h1M158 602.5h1M161 601.5h1M162 601.5h1M163 600.5h1M166 600.5h1M167 599.5h1M168 599.5h1M171 598.5h1M172 598.5h1M173 598.5h1M176 597.5h1M177 597.5h1M178 596.5h1M181 595.5h1M182 595.5h1M183 595.5h1M186 594.5h1M187 594.5h1M188 594.5h1M191 594.5h1M192 594.5h1M193 593.5h1M196 593.5h1M197 593.5h1M198 593.5h1M201 593.5h1M202 593.5h1M203 593.5h1M206 593.5h1M207 593.5h1M208 593.5h1M211 593.5h1M212 593.5h1M213 593.5h1M216 593.5h1M217 593.5h1M218 593.5h1M221 593.5h1M222 594.5h1M223 594.5h1M226 595.5h1M227 595.5h1M228 595.5h1M231 596.5h1M232 596.5h1M233 596.5h1M236 597.5h1M237 597.5h1M238 597.5h1M241 598.5h1M242 598.5h1M243 599.5h1M246 600.5h1M247 600.5h1M248 600.5h1M251 601.5h1M252 601.5h1M253 601.5h1M256 602.5h1M257 602.5h1M258 602.5h1M261 603.5h1M262 603.5h1M263 603.5h1M266 604.5h1M267 605.5h1M268 605.5h1M271 606.5h1M272 606.5h1M273 606.5h1M276 607.5h1M277 607.5h1M278 607.5h1M281 607.5h1M282 607.5h1M283 607.5h1M286 607.5h1M287 607.5h1M288 607.5h1M291 607.5h1M292 607.5h1M293 607.5h1M296 607.5h1M297 607.5h1M298 607.5h1M301 607.5h1M302 606.5h1M303 606.5h1M306 606.5h1M307 606.5h1M308 606.5h1M311 606.5h1M312 606.5h1M313 606.5h1M316 606.5h1M317 606.5h1M318 606.5h1M321 605.5h1M322 605.5h1M323 605.5h1M326 605.5h1M327 605.5h1M328 605.5h1M331 605.5h1M332 605.5h1M333 605.5h1M336 605.5h1M337 605.5h1M338 605.5h1M341 605.5h1M342 605.5h1M343 605.5h1M346 605.5h1M347 605.5h1M348 605.5h1M351 604.5h1M352 604.5h1M353 604.5h1M356 604.5h1M357 604.5h1M358 604.5h1M361 604.5h1M362 604.5h1M363 604.5h1M366 604.5h1M367 604.5h1M368 604.5h1M371 604.5h1M372 604.5h1M373 604.5h1M376 604.5h1M377 604.5h1M378 604.5h1M381 604.5h1M382 604.5h1M383 604.5h1M386 604.5h1M387 604.5h1M388 604.5h1M391 604.5h1M392 604.5h1M393 604.5h1M396 604.5h1M397 604.5h1M398 604.5h1M401 604.5h1M402 604.5h1M403 605.5h1M406 605.5h1M407 605.5h1M408 605.5h1M411 605.5h1M412 605.5h1M413 605.5h1M416 605.5h1M417 605.5h1M418 605.5h1M421 606.5h1M422 606.5h1M423 606.5h1M426 606.5h1M427 606.5h1M428 607.5h1M431 607.5h1M432 607.5h1M433 608.5h1M436 608.5h1M437 609.5h1M438 609.5h1M441 610.5h1M442 610.5h1M443 610.5h1M446 611.5h1M447 611.5h1M448 611.5h1M451 612.5h1M452 612.5h1M453 612.5h1M456 613.5h1M457 614.5h1M458 614.5h1M461 615.5h1M462 615.5h1M463 616.5h1M466 617.5h1M467 617.5h1M468 618.5h1M471 619.5h1M472 619.5h1M473 620.5h1M476 621.5h1M477 621.5h1M478 621.5h1M481 622.5h1M482 622.5h1M483 623.5h1M486 624.5h1M487 624.5h1M488 625.5h1M491 626.5h1M492 626.5h1M493 626.5h1M496 627.5h1M497 628.5h1M498 628.5h1M501 629.5h1M502 630.5h1M503 630.5h1M506 631.5h1M507 631.5h1M508 631.5h1M511 632.5h1M512 632.5h1M513 632.5h1M516 633.5h1M517 634.5h1M518 634.5h1M521 634.5h1M522 634.5h1M523 634.5h1M526 634.5h1M527 634.5h1M528 634.5h1M531 634.5h1M532 634.5h1M533 634.5h1M536 634.5h1M537 634.5h1M538 634.5h1M541 633.5h1M542 633.5h1M543 633.5h1M546 633.5h1M547 633.5h1M548 633.5h1M551 633.5h1M552 633.5h1M553 632.5h1M556 632.5h1M557 631.5h1M558 631.5h1M561 631.5h1M562 631.5h1M563 631.5h1M566 631.5h1M567 630.5h1M568 630.5h1M571 629.5h1M572 629.5h1M573 629.5h1M576 628.5h1M577 628.5h1M578 627.5h1M581 627.5h1M582 626.5h1M583 626.5h1M586 626.5h1M587 625.5h1M588 625.5h1M591 624.5h1M592 624.5h1M593 624.5h1M596 623.5h1M597 622.5h1M598 622.5h1M601 622.5h1M602 622.5h1M603 621.5h1M606 621.5h1M607 621.5h1M608 620.5h1M611 619.5h1M612 619.5h1M613 619.5h1M616 618.5h1M617 618.5h1M618 618.5h1M621 618.5h1M622 617.5h1M623 617.5h1M626 617.5h1M627 617.5h1M628 616.5h1M631 616.5h1M632 615.5h1M633 615.5h1M636 614.5h1M637 614.5h1M638 614.5h1M641 614.5h1M642 613.5h1M643 613.5h1M646 613.5h1M647 613.5h1M648 613.5h1M651 612.5h1M652 612.5h1M653 612.5h1M656 611.5h1M657 611.5h1M658 611.5h1M661 611.5h1M662 611.5h1M663 611.5h1M666 610.5h1M667 610.5h1M668 610.5h1M671 610.5h1M672 610.5h1M673 610.5h1M676 610.5h1M677 610.5h1M678 610.5h1M681 610.5h1M682 610.5h1M683 610.5h1M686 610.5h1M687 610.5h1M688 610.5h1M691 610.5h1M692 610.5h1M693 610.5h1M696 610.5h1M697 610.5h1M698 610.5h1M701 610.5h1M702 610.5h1M703 611.5h1M706 611.5h1M707 611.5h1M708 611.5h1M711 611.5h1M712 611.5h1M713 611.5h1M716 611.5h1M717 612.5h1M718 612.5h1M721 612.5h1M722 612.5h1M723 612.5h1M726 613.5h1M727 613.5h1M728 613.5h1M731 614.5h1M732 614.5h1M733 614.5h1M736 614.5h1M737 614.5h1M738 614.5h1M741 614.5h1M742 614.5h1M743 614.5h1M746 614.5h1M747 614.5h1M748 615.5h1M751 615.5h1M752 615.5h1M753 615.5h1M756 615.5h1M757 615.5h1M758 615.5h1M761 615.5h1M762 615.5h1M763 615.5h1M766 615.5h1M767 615.5h1M768 614.5h1M771 614.5h1M772 614.5h1M773 614.5h1M776 614.5h1M777 614.5h1M778 614.5h1M781 614.5h1M782 614.5h1M783 614.5h1M786 613.5h1M787 613.5h1M788 613.5h1M791 613.5h1M792 613.5h1M793 612.5h1M796 612.5h1M797 612.5h1M798 612.5h1M801 611.5h1M802 611.5h1M803 611.5h1M806 611.5h1M807 611.5h1M808 611.5h1M811 610.5h1M812 610.5h1M813 610.5h1M816 610.5h1M817 610.5h1M818 609.5h1M821 609.5h1M822 609.5h1M823 609.5h1M826 608.5h1M827 608.5h1M828 608.5h1M831 608.5h1M832 608.5h1M833 608.5h1M836 608.5h1M837 608.5h1M838 608.5h1M841 607.5h1M842 607.5h1M843 607.5h1M846 606.5h1M847 606.5h1M848 606.5h1M851 606.5h1M852 606.5h1M853 606.5h1M856 605.5h1M857 605.5h1M858 605.5h1M861 605.5h1M862 605.5h1M863 605.5h1M866 605.5h1M867 605.5h1M868 605.5h1M871 605.5h1M872 604.5h1M873 604.5h1M876 604.5h1M877 604.5h1M878 604.5h1M881 604.5h1M882 604.5h1M883 604.5h1M886 604.5h1M887 604.5h1M888 604.5h1M891 603.5h1M892 603.5h1M893 603.5h1M896 603.5h1M897 603.5h1M898 603.5h1M901 602.5h1M902 602.5h1M903 602.5h1M906 602.5h1M907 602.5h1M908 602.5h1M911 602.5h1M912 602.5h1M913 602.5h1M916 602.5h1M917 602.5h1M918 602.5h1M921 601.5h1M922 601.5h1M923 601.5h1M926 601.5h1M927 601.5h1M928 601.5h1M931 600.5h1M932 600.5h1M933 600.5h1M936 600.5h1M937 599.5h1M938 599.5h1M941 599.5h1M942 599.5h1M943 598.5h1M946 598.5h1M947 597.5h1M948 597.5h1M951 596.5h1M952 596.5h1M953 596.5h1M956 595.5h1M957 595.5h1M958 594.5h1M961 594.5h1M962 594.5h1M963 594.5h1M966 593.5h1M967 593.5h1M968 593.5h1M971 592.5h1M972 592.5h1M973 592.5h1M976 591.5h1M977 591.5h1M978 590.5h1M981 590.5h1M982 589.5h1M983 589.5h1M986 589.5h1M987 588.5h1M988 588.5h1M991 588.5h1M992 587.5h1M993 587.5h1M996 586.5h1M997 586.5h1M998 586.5h1M1001 585.5h1M1002 585.5h1M1003 585.5h1M1006 585.5h1M1007 585.5h1M1008 585.5h1M1011 584.5h1M1012 584.5h1M1013 584.5h1M1016 583.5h1M1017 583.5h1M1018 583.5h1M1021 583.5h1M1022 583.5h1M1023 582.5h1M1026 582.5h1M1027 582.5h1M1028 582.5h1M1031 582.5h1M1032 582.5h1M1033 582.5h1M1036 582.5h1M1037 582.5h1M1038 582.5h1M1041 581.5h1M1042 581.5h1M1043 581.5h1M1046 581.5h1M1047 581.5h1M1048 580.5h1M1051 580.5h1M1052 580.5h1M1053 580.5h1M1056 579.5h1M1057 579.5h1M1058 579.5h1M1061 578.5h1M1062 578.5h1M1063 578.5h1M1066 578.5h1M1067 577.5h1M1068 577.5h1M1071 576.5h1M1072 576.5h1M1073 576.5h1M1076 575.5h1M1077 575.5h1M1078 574.5h1M1081 573.5h1M1082 573.5h1M1083 573.5h1M1086 572.5h1M1087 571.5h1M1088 571.5h1M1091 570.5h1M1092 569.5h1M1093 569.5h1M1096 567.5h1M1097 567.5h1M1098 566.5h1M1101 565.5h1M1102 564.5h1M1103 564.5h1M1106 562.5h1M1107 562.5h1M1108 561.5h1M1111 560.5h1M1112 559.5h1M1113 559.5h1M1116 558.5h1M1117 557.5h1M1118 557.5h1M1121 555.5h1M1122 555.5h1M1123 554.5h1M1126 552.5h1M1127 552.5h1M1128 552.5h1M1131 552.5h1M1132 551.5h1M1133 551.5h1M1136 550.5h1M1137 550.5h1M1138 550.5h1M1141 549.5h1M1142 548.5h1M1143 548.5h1M1146 548.5h1M1147 548.5h1M1148 548.5h1M1151 548.5h1M1152 548.5h1M1153 549.5h1M1156 549.5h1M1157 550.5h1M1158 550.5h1M1161 550.5h1M1162 550.5h1M1163 551.5h1M1166 551.5h1M1167 551.5h1M1168 552.5h1M1171 553.5h1M1172 554.5h1M1173 554.5h1M1176 555.5h1M1177 556.5h1M1178 557.5h1M1181 558.5h1M1182 559.5h1M1183 559.5h1M1186 561.5h1M1187 561.5h1M1188 562.5h1M1191 563.5h1M1192 564.5h1M1193 565.5h1M1196 567.5h1M1197 567.5h1M1198 568.5h1M1201 570.5h1M1202 571.5h1M1203 571.5h1M1206 573.5h1M1207 574.5h1M1208 574.5h1M1211 576.5h1M1212 576.5h1M1213 577.5h1M1216 578.5h1M1217 579.5h1M1218 579.5h1M1221 581.5h1M1222 582.5h1M1223 582.5h1M1226 583.5h1M1227 584.5h1M1228 584.5h1M1231 585.5h1M1232 585.5h1M1233 586.5h1M1236 587.5h1M1237 587.5h1M1238 588.5h1M1241 589.5h1M1242 589.5h1M1243 590.5h1M1246 591.5h1M1247 591.5h1M1248 591.5h1M1251 592.5h1M1252 592.5h1M1253 593.5h1M1256 594.5h1M1257 594.5h1M1258 594.5h1M1261 595.5h1M1262 595.5h1M1263 595.5h1M1266 596.5h1M1267 596.5h1M1268 596.5h1M1271 597.5h1M1272 597.5h1M1273 597.5h1M1276 597.5h1M1277 597.5h1M1278 598.5h1M1281 598.5h1M1282 598.5h1M1283 598.5h1M1286 599.5h1M1287 599.5h1M1288 599.5h1M1291 600.5h1M1292 600.5h1M1293 600.5h1M1296 601.5h1M1297 601.5h1M1298 602.5h1M1301 603.5h1M1302 603.5h1M1303 604.5h1M1306 605.5h1M1307 605.5h1M1308 606.5h1M1311 607.5h1M1312 608.5h1M1313 609.5h1M1316 611.5h1M1317 611.5h1M1318 612.5h1M1321 615.5h1M1322 616.5h1M1323 616.5h1M1326 619.5h1M1327 620.5h1M1328 621.5h1M1331 623.5h1M1332 624.5h1M1333 625.5h1M1336 627.5h1M1337 628.5h1M1338 629.5h1M1341 631.5h1M1342 632.5h1M1343 633.5h1M1346 635.5h1M1347 636.5h1M1348 637.5h1M1351 639.5h1M1352 640.5h1M1353 640.5h1M1356 642.5h1M1357 643.5h1M1358 644.5h1M1361 646.5h1M1362 647.5h1M1363 647.5h1M1366 650.5h1M1367 650.5h1M1368 651.5h1M1371 652.5h1M1372 653.5h1M1373 654.5h1M1376 655.5h1M1377 656.5h1M1378 656.5h1M1381 658.5h1M1382 658.5h1M1383 658.5h1M1386 659.5h1M1387 659.5h1M1388 659.5h1M1391 659.5h1M1392 659.5h1M1393 659.5h1M1396 659.5h1M1397 659.5h1M1398 659.5h1M1401 659.5h1M1402 659.5h1M1403 658.5h1M1406 658.5h1M1407 657.5h1M1408 657.5h1M1411 656.5h1M1412 656.5h1M1413 655.5h1M1416 654.5h1M1417 654.5h1M1418 653.5h1M1421 652.5h1M1422 651.5h1M1423 651.5h1M1426 649.5h1M1427 649.5h1M1428 648.5h1M1431 646.5h1M1432 645.5h1M1433 645.5h1M1436 642.5h1M1437 641.5h1M1438 640.5h1M1441 638.5h1M1442 637.5h1M1443 636.5h1M1446 634.5h1M1447 633.5h1M1448 632.5h1M1451 630.5h1M1452 629.5h1M1453 628.5h1M1456 626.5h1M1457 625.5h1M1458 624.5h1M1461 622.5h1M1462 621.5h1M1463 620.5h1M1466 617.5h1M1467 616.5h1M1468 616.5h1M1471 613.5h1M1472 612.5h1M1473 612.5h1M1476 610.5h1M1477 609.5h1M1478 609.5h1M1481 607.5h1M1482 606.5h1M1483 606.5h1M1486 604.5h1M1487 604.5h1M1488 603.5h1M1491 602.5h1M1492 602.5h1M1493 601.5h1M1496 600.5h1M1497 600.5h1M1498 599.5h1M1501 598.5h1M1502 598.5h1M1503 597.5h1M1506 596.5h1M1507 596.5h1M1508 596.5h1M1511 594.5h1M1512 594.5h1M1513 593.5h1M1516 592.5h1M1517 591.5h1M1518 591.5h1M1521 590.5h1M1522 590.5h1M1523 589.5h1M1526 588.5h1M1527 588.5h1M1528 587.5h1M1531 586.5h1M1532 585.5h1M1533 585.5h1M1536 583.5h1M1537 583.5h1M1538 582.5h1M1541 581.5h1M1542 580.5h1M1543 580.5h1M1546 579.5h1M1547 578.5h1M1548 578.5h1M1551 576.5h1M1552 576.5h1M1553 575.5h1M1556 574.5h1M1557 573.5h1M1558 573.5h1M1561 572.5h1M1562 571.5h1M1563 571.5h1M1566 569.5h1M1567 569.5h1M1568 569.5h1M1571 567.5h1M1572 567.5h1M1573 566.5h1M1576 565.5h1M1577 565.5h1M1578 565.5h1M1581 564.5h1M1582 564.5h1M1583 563.5h1M1586 563.5h1M1587 563.5h1M1588 562.5h1M1591 562.5h1M1592 562.5h1M1593 562.5h1M1596 561.5h1M1597 561.5h1M1598 561.5h1M1601 561.5h1M1602 561.5h1M1603 561.5h1M1606 561.5h1M1607 561.5h1M1608 561.5h1M1611 562.5h1M1612 562.5h1M1613 563.5h1M1616 563.5h1M1617 563.5h1M1618 563.5h1M1621 564.5h1M1622 564.5h1M1623 564.5h1M1626 565.5h1M1627 566.5h1M1628 566.5h1M1631 567.5h1M1632 568.5h1M1633 568.5h1M1636 570.5h1M1637 570.5h1M1638 571.5h1M1641 572.5h1M1642 573.5h1M1643 573.5h1M1646 575.5h1M1647 575.5h1M1648 576.5h1M1651 578.5h1M1652 579.5h1M1653 579.5h1M1656 582.5h1M1657 582.5h1M1658 583.5h1" stroke="#ff0000" stroke-width="1" fill="none"/>
</g>
<text transform="translate(10.3,543.0) scale(0.918,1)" x="0" y="0" textLength="69.5" lengthAdjust="spacingAndGlyphs">MACD(12,26,9)</text><text transform="translate(79.3,543.0) scale(0.918,1)" x="0" y="0">2.046</text><text transform="translate(105.2,543.0) scale(0.918,1)" x="0" y="0">7.951</text>
<text transform="translate(1690.5,541.0) scale(0.918,1)" x="0" y="0">22.575</text><text transform="translate(1690.5,619.0) scale(0.918,1)" x="0" y="0">0.00</text><text transform="translate(1690.2,666.0) scale(0.918,1)" x="0" y="0">-14.484</text>
<g shape-rendering="crispEdges">
<line x1="6" y1="702.5" x2="1686" y2="702.5" stroke="#c0c0c0" stroke-width="1" stroke-dasharray="3 3"/>
<line x1="6" y1="742.5" x2="1686" y2="742.5" stroke="#c0c0c0" stroke-width="1" stroke-dasharray="3 3"/>
<polyline points="6.5,723.4 14.5,721.7 22.5,720.4 30.5,715.3 38.5,718.7 46.5,726.5 54.5,728.6 62.5,715.3 70.5,715.3 78.5,718.4 86.5,717.3 94.5,720.4 102.5,721.7 110.5,708.3 118.5,707.5 126.5,699.3 134.5,704.4 142.5,706.6 150.5,702.3 158.5,703.5 166.5,707.5 174.5,707.5 182.5,709.2 190.5,713.5 198.5,712.3 206.5,722.2 214.5,724.2 222.5,724.2 230.5,729.4 238.5,723.9 246.5,720.1 254.5,722.7 262.5,715.3 270.5,714.0 278.5,711.4 286.5,710.1 294.5,712.3 302.5,709.2 310.5,715.3 318.5,721.3 326.5,724.2 334.5,718.7 342.5,715.3 350.5,708.3 358.5,710.1 366.5,708.3 374.5,719.1 382.5,723.4 390.5,721.7 398.5,724.2 406.5,722.2 414.5,720.4 422.5,724.2 430.5,728.2 438.5,730.3 446.5,741.6 454.5,742.4 462.5,740.3 470.5,736.0 478.5,731.7 486.5,736.4 494.5,735.1 502.5,733.4 510.5,734.3 518.5,735.5 526.5,730.8 534.5,722.2 542.5,724.2 550.5,720.4 558.5,721.3 566.5,720.4 574.5,720.4 582.5,718.4 590.5,721.7 598.5,714.4 606.5,711.4 614.5,717.5 622.5,716.5 630.5,715.3 638.5,713.5 646.5,713.5 654.5,717.5 662.5,722.2 670.5,723.4 678.5,722.5 686.5,729.4 694.5,722.5 702.5,724.4 710.5,723.4 718.5,727.4 726.5,723.4 734.5,724.4 742.5,726.5 750.5,719.6 758.5,713.5 766.5,712.3 774.5,714.4 782.5,712.3 790.5,711.3 798.5,709.2 806.5,716.5 814.5,714.4 822.5,713.2 830.5,706.6 838.5,705.2 846.5,704.4 854.5,706.3 862.5,711.4 870.5,711.4 878.5,710.4 886.5,709.2 894.5,705.2 902.5,701.4 910.5,700.2 918.5,701.4 926.5,691.4 934.5,690.2 942.5,692.4 950.5,691.0 958.5,689.0 966.5,687.2 974.5,694.1 982.5,694.1 990.5,691.0 998.5,692.4 1006.5,700.5 1014.5,692.4 1022.5,692.4 1030.5,691.0 1038.5,690.2 1046.5,689.0 1054.5,685.3 1062.5,685.3 1070.5,683.2 1078.5,682.4 1086.5,679.3 1094.5,686.4 1102.5,684.5 1110.5,682.4 1118.5,691.0 1126.5,709.2 1134.5,709.2 1142.5,708.3 1150.5,719.6 1158.5,716.1 1166.5,712.3 1174.5,715.6 1182.5,721.3 1190.5,721.3 1198.5,719.1 1206.5,717.5 1214.5,723.4 1222.5,717.5 1230.5,720.4 1238.5,716.5 1246.5,718.4 1254.5,717.5 1262.5,716.5 1270.5,723.4 1278.5,720.4 1286.5,724.4 1294.5,730.3 1302.5,729.4 1310.5,745.5 1318.5,745.5 1326.5,745.5 1334.5,735.5 1342.5,736.4 1350.5,731.7 1358.5,735.5 1366.5,734.3 1374.5,736.4 1382.5,732.6 1390.5,733.4 1398.5,728.2 1406.5,714.4 1414.5,717.5 1422.5,711.4 1430.5,713.5 1438.5,715.3 1446.5,713.3 1454.5,713.5 1462.5,715.7 1470.5,717.4 1478.5,715.6 1486.5,717.4 1494.5,712.7 1502.5,707.6 1510.5,703.4 1518.5,703.4 1526.5,706.4 1534.5,705.4 1542.5,701.3 1550.5,714.4 1558.5,707.6 1566.5,704.2 1574.5,712.4 1582.5,712.4 1590.5,715.6 1598.5,719.5 1606.5,715.6 1614.5,720.3 1622.5,720.7 1630.5,722.4 1638.5,722.5 1646.5,725.9 1654.5,730.5 1662.5,725.4" fill="none" stroke="#1e90ff" stroke-width="1" />
</g>
<text transform="translate(10.3,684.0) scale(0.918,1)" x="0" y="0" textLength="34.5" lengthAdjust="spacingAndGlyphs">RSI(14)</text><text transform="translate(45.5,684.0) scale(0.918,1)" x="0" y="0">47.5956</text>
<text transform="translate(1690.0,682.0) scale(0.918,1)" x="0" y="0">100</text><text transform="translate(1690.0,706.0) scale(0.918,1)" x="0" y="0">70</text><text transform="translate(1690.0,746.0) scale(0.918,1)" x="0" y="0">30</text><text transform="translate(1690.0,769.0) scale(0.918,1)" x="0" y="0">0</text>
<text transform="translate(5.0,785.0) scale(0.918,1)" x="0" y="0" textLength="54.5" lengthAdjust="spacingAndGlyphs">22 Jan 2020</text>
<text transform="translate(69.0,785.0) scale(0.918,1)" x="0" y="0" textLength="57.1" lengthAdjust="spacingAndGlyphs">23 Jan 16:00</text>
<text transform="translate(133.0,785.0) scale(0.918,1)" x="0" y="0" textLength="57.1" lengthAdjust="spacingAndGlyphs">27 Jan 00:00</text>
<text transform="translate(197.0,785.0) scale(0.918,1)" x="0" y="0" textLength="57.1" lengthAdjust="spacingAndGlyphs">28 Jan 08:00</text>
<text transform="translate(261.0,785.0) scale(0.918,1)" x="0" y="0" textLength="57.1" lengthAdjust="spacingAndGlyphs">29 Jan 16:00</text>
<text transform="translate(325.0,785.0) scale(0.918,1)" x="0" y="0" textLength="57.1" lengthAdjust="spacingAndGlyphs">31 Jan 00:00</text>
<text transform="translate(389.0,785.0) scale(0.918,1)" x="0" y="0" textLength="53.8" lengthAdjust="spacingAndGlyphs">3 Feb 08:00</text>
<text transform="translate(453.0,785.0) scale(0.918,1)" x="0" y="0" textLength="53.8" lengthAdjust="spacingAndGlyphs">4 Feb 16:00</text>
<text transform="translate(517.0,785.0) scale(0.918,1)" x="0" y="0" textLength="53.8" lengthAdjust="spacingAndGlyphs">6 Feb 00:00</text>
<text transform="translate(581.0,785.0) scale(0.918,1)" x="0" y="0" textLength="53.8" lengthAdjust="spacingAndGlyphs">7 Feb 08:00</text>
<text transform="translate(645.0,785.0) scale(0.918,1)" x="0" y="0" textLength="57.1" lengthAdjust="spacingAndGlyphs">10 Feb 16:00</text>
<text transform="translate(709.0,785.0) scale(0.918,1)" x="0" y="0" textLength="57.1" lengthAdjust="spacingAndGlyphs">12 Feb 00:00</text>
<text transform="translate(773.0,785.0) scale(0.918,1)" x="0" y="0" textLength="57.1" lengthAdjust="spacingAndGlyphs">13 Feb 08:00</text>
<text transform="translate(837.0,785.0) scale(0.918,1)" x="0" y="0" textLength="57.1" lengthAdjust="spacingAndGlyphs">14 Feb 16:00</text>
<text transform="translate(901.0,785.0) scale(0.918,1)" x="0" y="0" textLength="57.1" lengthAdjust="spacingAndGlyphs">18 Feb 00:00</text>
<text transform="translate(965.0,785.0) scale(0.918,1)" x="0" y="0" textLength="57.1" lengthAdjust="spacingAndGlyphs">19 Feb 08:00</text>
<text transform="translate(1029.0,785.0) scale(0.918,1)" x="0" y="0" textLength="57.1" lengthAdjust="spacingAndGlyphs">20 Feb 16:00</text>
<text transform="translate(1093.0,785.0) scale(0.918,1)" x="0" y="0" textLength="57.1" lengthAdjust="spacingAndGlyphs">24 Feb 00:00</text>
<text transform="translate(1157.0,785.0) scale(0.918,1)" x="0" y="0" textLength="57.1" lengthAdjust="spacingAndGlyphs">25 Feb 08:00</text>
<text transform="translate(1221.0,785.0) scale(0.918,1)" x="0" y="0" textLength="57.1" lengthAdjust="spacingAndGlyphs">26 Feb 16:00</text>
<text transform="translate(1285.0,785.0) scale(0.918,1)" x="0" y="0" textLength="57.1" lengthAdjust="spacingAndGlyphs">28 Feb 00:00</text>
<text transform="translate(1349.0,785.0) scale(0.918,1)" x="0" y="0" textLength="53.8" lengthAdjust="spacingAndGlyphs">2 Mar 08:00</text>
<text transform="translate(1413.0,785.0) scale(0.918,1)" x="0" y="0" textLength="53.8" lengthAdjust="spacingAndGlyphs">3 Mar 16:00</text>
<text transform="translate(1477.0,785.0) scale(0.918,1)" x="0" y="0" textLength="53.8" lengthAdjust="spacingAndGlyphs">5 Mar 00:00</text>
<text transform="translate(1541.0,785.0) scale(0.918,1)" x="0" y="0" textLength="53.8" lengthAdjust="spacingAndGlyphs">6 Mar 08:00</text>
<text transform="translate(1605.0,785.0) scale(0.918,1)" x="0" y="0" textLength="53.8" lengthAdjust="spacingAndGlyphs">9 Mar 16:00</text>
</svg></body></html>
